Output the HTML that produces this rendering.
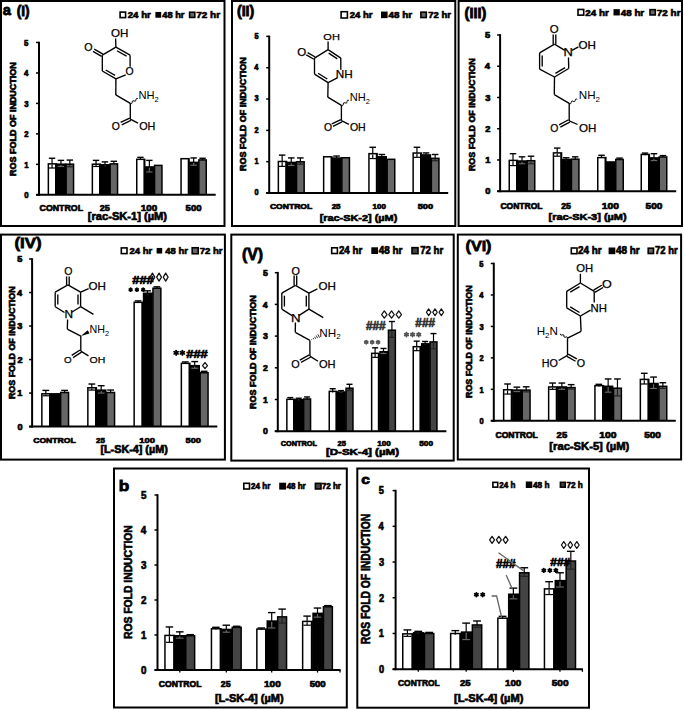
<!DOCTYPE html><html><head><meta charset="utf-8"><style>html,body{margin:0;padding:0;background:#fff;}svg{display:block;}text{font-family:"Liberation Sans",sans-serif;}</style></head><body>
<svg width="684" height="709" viewBox="0 0 684 709">
<rect x="0" y="0" width="684" height="709" fill="#fff"/>
<rect x="1.00" y="1.00" width="223.50" height="225.00" fill="none" stroke="#000" stroke-width="2"/>
<rect x="232.00" y="1.00" width="223.30" height="225.00" fill="none" stroke="#000" stroke-width="2"/>
<rect x="458.60" y="1.00" width="223.40" height="225.00" fill="none" stroke="#000" stroke-width="2"/>
<rect x="1.00" y="234.60" width="223.90" height="225.00" fill="none" stroke="#000" stroke-width="2"/>
<rect x="231.30" y="234.60" width="222.40" height="226.00" fill="none" stroke="#000" stroke-width="2"/>
<rect x="457.80" y="234.60" width="223.30" height="224.90" fill="none" stroke="#000" stroke-width="2"/>
<rect x="114.00" y="468.50" width="232.80" height="239.00" fill="none" stroke="#000" stroke-width="2"/>
<rect x="357.30" y="468.50" width="231.70" height="239.20" fill="none" stroke="#000" stroke-width="2"/>
<text x="2.79" y="15.03" font-size="15.08" font-weight="bold" fill="#000" stroke="#000" stroke-width="0.8" textLength="8.20" lengthAdjust="spacingAndGlyphs">a</text>
<text x="16.64" y="15.97" font-size="14.01" font-weight="bold" fill="#000" stroke="#000" stroke-width="0.8" textLength="12.92" lengthAdjust="spacingAndGlyphs">(I)</text>
<text x="236.91" y="16.09" font-size="13.90" font-weight="bold" fill="#000" stroke="#000" stroke-width="0.8" textLength="17.38" lengthAdjust="spacingAndGlyphs">(II)</text>
<text x="464.60" y="17.82" font-size="13.80" font-weight="bold" fill="#000" stroke="#000" stroke-width="0.8" textLength="21.81" lengthAdjust="spacingAndGlyphs">(III)</text>
<text x="14.48" y="247.78" font-size="15.41" font-weight="bold" fill="#000" stroke="#000" stroke-width="0.8" textLength="27.03" lengthAdjust="spacingAndGlyphs">(IV)</text>
<text x="242.03" y="260.49" font-size="15.83" font-weight="bold" fill="#000" stroke="#000" stroke-width="0.8" textLength="21.14" lengthAdjust="spacingAndGlyphs">(V)</text>
<text x="465.52" y="250.98" font-size="15.41" font-weight="bold" fill="#000" stroke="#000" stroke-width="0.8" textLength="25.97" lengthAdjust="spacingAndGlyphs">(VI)</text>
<text x="118.89" y="490.84" font-size="14.52" font-weight="bold" fill="#000" stroke="#000" stroke-width="0.8" textLength="10.50" lengthAdjust="spacingAndGlyphs">b</text>
<text x="361.21" y="483.96" font-size="12.70" font-weight="bold" fill="#000" stroke="#000" stroke-width="0.8" textLength="8.62" lengthAdjust="spacingAndGlyphs">c</text>
<rect x="120.10" y="12.10" width="5.50" height="5.50" fill="#fff" stroke="#000" stroke-width="1.6"/>
<text x="127.72" y="18.04" font-size="9.36" font-weight="bold" fill="#000" stroke="#000" stroke-width="0.65" textLength="23.16" lengthAdjust="spacingAndGlyphs">24 hr</text>
<rect x="156.20" y="12.75" width="4.20" height="4.20" fill="#000" stroke="#000" stroke-width="1.6"/>
<text x="162.32" y="18.04" font-size="9.36" font-weight="bold" fill="#000" stroke="#000" stroke-width="0.65" textLength="22.16" lengthAdjust="spacingAndGlyphs">48 hr</text>
<rect x="189.60" y="12.25" width="5.20" height="5.20" fill="#666" stroke="#000" stroke-width="1.6"/>
<text x="196.23" y="18.04" font-size="9.36" font-weight="bold" fill="#000" stroke="#000" stroke-width="0.65" textLength="23.86" lengthAdjust="spacingAndGlyphs">72 hr</text>
<rect x="341.10" y="11.70" width="6.30" height="6.30" fill="#fff" stroke="#000" stroke-width="1.6"/>
<text x="349.83" y="18.04" font-size="9.36" font-weight="bold" fill="#000" stroke="#000" stroke-width="0.65" textLength="22.75" lengthAdjust="spacingAndGlyphs">24 hr</text>
<rect x="381.80" y="12.35" width="5.00" height="5.00" fill="#000" stroke="#000" stroke-width="1.6"/>
<text x="388.61" y="18.04" font-size="9.36" font-weight="bold" fill="#000" stroke="#000" stroke-width="0.65" textLength="23.48" lengthAdjust="spacingAndGlyphs">48 hr</text>
<rect x="420.90" y="12.15" width="5.40" height="5.40" fill="#666" stroke="#000" stroke-width="1.6"/>
<text x="428.35" y="18.04" font-size="9.36" font-weight="bold" fill="#000" stroke="#000" stroke-width="0.65" textLength="22.63" lengthAdjust="spacingAndGlyphs">72 hr</text>
<rect x="578.00" y="9.45" width="5.70" height="5.70" fill="#fff" stroke="#000" stroke-width="1.6"/>
<text x="585.32" y="15.54" font-size="9.49" font-weight="bold" fill="#000" stroke="#000" stroke-width="0.65" textLength="23.57" lengthAdjust="spacingAndGlyphs">24 hr</text>
<rect x="614.30" y="9.95" width="4.70" height="4.70" fill="#000" stroke="#000" stroke-width="1.6"/>
<text x="620.81" y="15.54" font-size="9.49" font-weight="bold" fill="#000" stroke="#000" stroke-width="0.65" textLength="23.38" lengthAdjust="spacingAndGlyphs">48 hr</text>
<rect x="650.00" y="9.65" width="5.30" height="5.30" fill="#666" stroke="#000" stroke-width="1.6"/>
<text x="656.83" y="15.54" font-size="9.49" font-weight="bold" fill="#000" stroke="#000" stroke-width="0.65" textLength="23.66" lengthAdjust="spacingAndGlyphs">72 hr</text>
<rect x="121.30" y="247.90" width="5.70" height="5.70" fill="#fff" stroke="#000" stroke-width="1.6"/>
<text x="129.43" y="254.14" font-size="9.91" font-weight="bold" fill="#000" stroke="#000" stroke-width="0.65" textLength="22.86" lengthAdjust="spacingAndGlyphs">24 hr</text>
<rect x="157.40" y="248.75" width="4.00" height="4.00" fill="#000" stroke="#000" stroke-width="1.6"/>
<text x="165.22" y="254.14" font-size="9.91" font-weight="bold" fill="#000" stroke="#000" stroke-width="0.65" textLength="22.67" lengthAdjust="spacingAndGlyphs">48 hr</text>
<rect x="192.20" y="247.75" width="6.00" height="6.00" fill="#666" stroke="#000" stroke-width="1.6"/>
<text x="199.65" y="254.14" font-size="9.91" font-weight="bold" fill="#000" stroke="#000" stroke-width="0.65" textLength="22.94" lengthAdjust="spacingAndGlyphs">72 hr</text>
<rect x="331.70" y="247.80" width="5.70" height="5.70" fill="#fff" stroke="#000" stroke-width="1.6"/>
<text x="338.92" y="254.14" font-size="10.18" font-weight="bold" fill="#000" stroke="#000" stroke-width="0.65" textLength="23.26" lengthAdjust="spacingAndGlyphs">24 hr</text>
<rect x="372.10" y="248.10" width="5.10" height="5.10" fill="#000" stroke="#000" stroke-width="1.6"/>
<text x="378.71" y="254.14" font-size="10.18" font-weight="bold" fill="#000" stroke="#000" stroke-width="0.65" textLength="23.68" lengthAdjust="spacingAndGlyphs">48 hr</text>
<rect x="412.00" y="247.65" width="6.00" height="6.00" fill="#444" stroke="#000" stroke-width="1.6"/>
<text x="420.15" y="254.14" font-size="10.18" font-weight="bold" fill="#000" stroke="#000" stroke-width="0.65" textLength="23.04" lengthAdjust="spacingAndGlyphs">72 hr</text>
<rect x="571.30" y="248.00" width="5.70" height="5.70" fill="#fff" stroke="#000" stroke-width="1.6"/>
<text x="578.02" y="254.34" font-size="10.18" font-weight="bold" fill="#000" stroke="#000" stroke-width="0.65" textLength="23.57" lengthAdjust="spacingAndGlyphs">24 hr</text>
<rect x="609.40" y="248.30" width="5.10" height="5.10" fill="#000" stroke="#000" stroke-width="1.6"/>
<text x="615.91" y="254.34" font-size="10.18" font-weight="bold" fill="#000" stroke="#000" stroke-width="0.65" textLength="23.78" lengthAdjust="spacingAndGlyphs">48 hr</text>
<rect x="648.20" y="248.20" width="5.30" height="5.30" fill="#666" stroke="#000" stroke-width="1.6"/>
<text x="655.05" y="254.34" font-size="10.18" font-weight="bold" fill="#000" stroke="#000" stroke-width="0.65" textLength="22.63" lengthAdjust="spacingAndGlyphs">72 hr</text>
<rect x="243.80" y="483.30" width="5.70" height="5.70" fill="#fff" stroke="#000" stroke-width="1.6"/>
<text x="251.08" y="489.04" font-size="8.53" font-weight="bold" fill="#000" stroke="#000" stroke-width="0.65" textLength="19.18" lengthAdjust="spacingAndGlyphs">24 hr</text>
<rect x="280.00" y="483.50" width="5.30" height="5.30" fill="#000" stroke="#000" stroke-width="1.6"/>
<text x="286.64" y="489.04" font-size="8.53" font-weight="bold" fill="#000" stroke="#000" stroke-width="0.65" textLength="19.02" lengthAdjust="spacingAndGlyphs">48 hr</text>
<rect x="315.40" y="483.35" width="5.60" height="5.60" fill="#444" stroke="#000" stroke-width="1.6"/>
<text x="321.71" y="489.04" font-size="8.53" font-weight="bold" fill="#000" stroke="#000" stroke-width="0.65" textLength="19.25" lengthAdjust="spacingAndGlyphs">72 hr</text>
<rect x="492.90" y="482.35" width="4.80" height="4.80" fill="#fff" stroke="#000" stroke-width="1.6"/>
<text x="499.28" y="487.84" font-size="9.08" font-weight="bold" fill="#000" stroke="#000" stroke-width="0.65" textLength="16.06" lengthAdjust="spacingAndGlyphs">24 h</text>
<rect x="526.60" y="482.30" width="4.90" height="4.90" fill="#000" stroke="#000" stroke-width="1.6"/>
<text x="532.94" y="487.84" font-size="9.08" font-weight="bold" fill="#000" stroke="#000" stroke-width="0.65" textLength="16.52" lengthAdjust="spacingAndGlyphs">48 h</text>
<rect x="560.40" y="482.35" width="4.80" height="4.80" fill="#444" stroke="#000" stroke-width="1.6"/>
<text x="566.41" y="487.84" font-size="9.08" font-weight="bold" fill="#000" stroke="#000" stroke-width="0.65" textLength="16.44" lengthAdjust="spacingAndGlyphs">72 h</text>
<rect x="47.60" y="163.12" width="9.50" height="31.68" fill="#000"/>
<rect x="49.10" y="164.62" width="5.90" height="30.18" fill="#fff"/>
<rect x="56.50" y="163.43" width="9.50" height="31.37" fill="#000"/>
<rect x="58.00" y="164.93" width="5.90" height="29.87" fill="#000"/>
<rect x="65.40" y="163.43" width="8.90" height="31.37" fill="#000"/>
<rect x="66.90" y="164.93" width="5.90" height="29.87" fill="#666"/>
<rect x="91.60" y="163.43" width="9.50" height="31.37" fill="#000"/>
<rect x="93.10" y="164.93" width="5.90" height="29.87" fill="#fff"/>
<rect x="100.50" y="164.04" width="9.50" height="30.76" fill="#000"/>
<rect x="102.00" y="165.54" width="5.90" height="29.26" fill="#000"/>
<rect x="109.40" y="163.12" width="8.90" height="31.68" fill="#000"/>
<rect x="110.90" y="164.62" width="5.90" height="30.18" fill="#666"/>
<rect x="136.00" y="158.55" width="9.50" height="36.25" fill="#000"/>
<rect x="137.50" y="160.05" width="5.90" height="34.75" fill="#fff"/>
<rect x="144.90" y="166.17" width="9.50" height="28.63" fill="#000"/>
<rect x="146.40" y="167.67" width="5.90" height="27.13" fill="#000"/>
<rect x="153.80" y="164.64" width="8.90" height="30.16" fill="#000"/>
<rect x="155.30" y="166.14" width="5.90" height="28.66" fill="#666"/>
<rect x="180.30" y="157.94" width="9.50" height="36.86" fill="#000"/>
<rect x="181.80" y="159.44" width="5.90" height="35.36" fill="#fff"/>
<rect x="189.20" y="161.60" width="9.50" height="33.20" fill="#000"/>
<rect x="190.70" y="163.10" width="5.90" height="31.70" fill="#000"/>
<rect x="198.10" y="159.16" width="8.90" height="35.64" fill="#000"/>
<rect x="199.60" y="160.66" width="5.90" height="34.14" fill="#666"/>
<line x1="48.85" y1="168.00" x2="55.25" y2="168.00" stroke="#000" stroke-width="1.2"/>
<line x1="52.05" y1="164.62" x2="52.05" y2="168.00" stroke="#000" stroke-width="1.2"/>
<line x1="52.05" y1="158.25" x2="52.05" y2="163.87" stroke="#000" stroke-width="1.2"/>
<line x1="48.85" y1="158.25" x2="55.25" y2="158.25" stroke="#000" stroke-width="1.4"/>
<line x1="57.75" y1="166.47" x2="64.15" y2="166.47" stroke="#666" stroke-width="1.2"/>
<line x1="60.95" y1="164.93" x2="60.95" y2="166.47" stroke="#666" stroke-width="1.2"/>
<line x1="60.95" y1="160.38" x2="60.95" y2="164.18" stroke="#000" stroke-width="1.2"/>
<line x1="57.75" y1="160.38" x2="64.15" y2="160.38" stroke="#000" stroke-width="1.4"/>
<line x1="66.65" y1="166.78" x2="73.05" y2="166.78" stroke="#222" stroke-width="1.2"/>
<line x1="69.85" y1="164.93" x2="69.85" y2="166.78" stroke="#222" stroke-width="1.2"/>
<line x1="69.85" y1="160.08" x2="69.85" y2="164.18" stroke="#000" stroke-width="1.2"/>
<line x1="66.65" y1="160.08" x2="73.05" y2="160.08" stroke="#000" stroke-width="1.4"/>
<line x1="92.85" y1="166.47" x2="99.25" y2="166.47" stroke="#000" stroke-width="1.2"/>
<line x1="96.05" y1="164.93" x2="96.05" y2="166.47" stroke="#000" stroke-width="1.2"/>
<line x1="96.05" y1="160.38" x2="96.05" y2="164.18" stroke="#000" stroke-width="1.2"/>
<line x1="92.85" y1="160.38" x2="99.25" y2="160.38" stroke="#000" stroke-width="1.4"/>
<line x1="104.95" y1="165.54" x2="104.95" y2="166.17" stroke="#666" stroke-width="1.2"/>
<line x1="104.95" y1="161.90" x2="104.95" y2="164.79" stroke="#000" stroke-width="1.2"/>
<line x1="101.75" y1="161.90" x2="108.15" y2="161.90" stroke="#000" stroke-width="1.4"/>
<line x1="113.85" y1="164.62" x2="113.85" y2="164.95" stroke="#222" stroke-width="1.2"/>
<line x1="113.85" y1="161.29" x2="113.85" y2="163.87" stroke="#000" stroke-width="1.2"/>
<line x1="110.65" y1="161.29" x2="117.05" y2="161.29" stroke="#000" stroke-width="1.4"/>
<line x1="140.45" y1="160.05" x2="140.45" y2="159.77" stroke="#000" stroke-width="1.2"/>
<line x1="140.45" y1="157.33" x2="140.45" y2="159.30" stroke="#000" stroke-width="1.2"/>
<line x1="137.25" y1="157.33" x2="143.65" y2="157.33" stroke="#000" stroke-width="1.4"/>
<line x1="146.15" y1="171.96" x2="152.55" y2="171.96" stroke="#666" stroke-width="1.2"/>
<line x1="149.35" y1="167.67" x2="149.35" y2="171.96" stroke="#666" stroke-width="1.2"/>
<line x1="149.35" y1="160.38" x2="149.35" y2="166.92" stroke="#000" stroke-width="1.2"/>
<line x1="146.15" y1="160.38" x2="152.55" y2="160.38" stroke="#000" stroke-width="1.4"/>
<line x1="190.45" y1="165.25" x2="196.85" y2="165.25" stroke="#666" stroke-width="1.2"/>
<line x1="193.65" y1="163.10" x2="193.65" y2="165.25" stroke="#666" stroke-width="1.2"/>
<line x1="193.65" y1="157.94" x2="193.65" y2="162.35" stroke="#000" stroke-width="1.2"/>
<line x1="190.45" y1="157.94" x2="196.85" y2="157.94" stroke="#000" stroke-width="1.4"/>
<line x1="202.55" y1="160.66" x2="202.55" y2="160.08" stroke="#222" stroke-width="1.2"/>
<line x1="202.55" y1="158.25" x2="202.55" y2="159.91" stroke="#000" stroke-width="1.2"/>
<line x1="199.35" y1="158.25" x2="205.75" y2="158.25" stroke="#000" stroke-width="1.4"/>
<line x1="39.00" y1="41.70" x2="39.00" y2="195.80" stroke="#000" stroke-width="2.0"/>
<line x1="36.00" y1="194.80" x2="215.70" y2="194.80" stroke="#000" stroke-width="2.0"/>
<line x1="36.00" y1="194.80" x2="39.00" y2="194.80" stroke="#000" stroke-width="1.5"/>
<line x1="36.00" y1="164.34" x2="39.00" y2="164.34" stroke="#000" stroke-width="1.5"/>
<line x1="36.00" y1="133.88" x2="39.00" y2="133.88" stroke="#000" stroke-width="1.5"/>
<line x1="36.00" y1="103.42" x2="39.00" y2="103.42" stroke="#000" stroke-width="1.5"/>
<line x1="36.00" y1="72.96" x2="39.00" y2="72.96" stroke="#000" stroke-width="1.5"/>
<line x1="36.00" y1="42.50" x2="39.00" y2="42.50" stroke="#000" stroke-width="1.5"/>
<text x="24.25" y="198.09" font-size="8.57" font-weight="bold" fill="#000" stroke="#000" stroke-width="0.65" textLength="4.31" lengthAdjust="spacingAndGlyphs">0</text>
<text x="24.16" y="167.63" font-size="8.57" font-weight="bold" fill="#000" stroke="#000" stroke-width="0.65" textLength="4.30" lengthAdjust="spacingAndGlyphs">1</text>
<text x="24.23" y="137.17" font-size="8.57" font-weight="bold" fill="#000" stroke="#000" stroke-width="0.65" textLength="4.32" lengthAdjust="spacingAndGlyphs">2</text>
<text x="24.18" y="106.71" font-size="8.57" font-weight="bold" fill="#000" stroke="#000" stroke-width="0.65" textLength="4.34" lengthAdjust="spacingAndGlyphs">3</text>
<text x="23.90" y="76.25" font-size="8.57" font-weight="bold" fill="#000" stroke="#000" stroke-width="0.65" textLength="4.38" lengthAdjust="spacingAndGlyphs">4</text>
<text x="24.12" y="45.79" font-size="8.57" font-weight="bold" fill="#000" stroke="#000" stroke-width="0.65" textLength="4.34" lengthAdjust="spacingAndGlyphs">5</text>
<text x="39.60" y="211.44" font-size="8.42" font-weight="bold" fill="#000" stroke="#000" stroke-width="0.65" textLength="43.41" lengthAdjust="spacingAndGlyphs">CONTROL</text>
<text x="99.85" y="211.44" font-size="8.42" font-weight="bold" fill="#000" stroke="#000" stroke-width="0.65" textLength="10.04" lengthAdjust="spacingAndGlyphs">25</text>
<text x="140.84" y="211.44" font-size="8.42" font-weight="bold" fill="#000" stroke="#000" stroke-width="0.65" textLength="16.30" lengthAdjust="spacingAndGlyphs">100</text>
<text x="185.57" y="211.44" font-size="8.42" font-weight="bold" fill="#000" stroke="#000" stroke-width="0.65" textLength="15.97" lengthAdjust="spacingAndGlyphs">500</text>
<text x="87.84" y="220.31" font-size="10.70" font-weight="bold" fill="#000" stroke="#000" stroke-width="0.65" textLength="79.26" lengthAdjust="spacingAndGlyphs">[rac-SK-1] (µM)</text>
<text x="-0.60" y="0" font-size="9.75" font-weight="bold" stroke="#000" stroke-width="0.65" textLength="113.81" lengthAdjust="spacingAndGlyphs" transform="translate(15.70,175.40) rotate(-90)">ROS FOLD OF INDUCTION</text>
<rect x="277.60" y="160.74" width="9.70" height="32.26" fill="#000"/>
<rect x="279.10" y="162.24" width="6.10" height="30.76" fill="#fff"/>
<rect x="286.70" y="161.68" width="9.70" height="31.32" fill="#000"/>
<rect x="288.20" y="163.18" width="6.10" height="29.82" fill="#000"/>
<rect x="295.80" y="161.05" width="9.10" height="31.95" fill="#000"/>
<rect x="297.30" y="162.55" width="6.10" height="30.45" fill="#666"/>
<rect x="322.90" y="156.04" width="9.70" height="36.96" fill="#000"/>
<rect x="324.40" y="157.54" width="6.10" height="35.46" fill="#fff"/>
<rect x="332.00" y="157.30" width="9.70" height="35.70" fill="#000"/>
<rect x="333.50" y="158.80" width="6.10" height="34.20" fill="#000"/>
<rect x="341.10" y="156.98" width="9.10" height="36.02" fill="#000"/>
<rect x="342.60" y="158.48" width="6.10" height="34.52" fill="#666"/>
<rect x="368.20" y="152.91" width="9.70" height="40.09" fill="#000"/>
<rect x="369.70" y="154.41" width="6.10" height="38.59" fill="#fff"/>
<rect x="377.30" y="156.04" width="9.70" height="36.96" fill="#000"/>
<rect x="378.80" y="157.54" width="6.10" height="35.46" fill="#000"/>
<rect x="386.40" y="158.55" width="9.10" height="34.45" fill="#000"/>
<rect x="387.90" y="160.05" width="6.10" height="32.95" fill="#666"/>
<rect x="412.40" y="152.28" width="9.70" height="40.72" fill="#000"/>
<rect x="413.90" y="153.78" width="6.10" height="39.22" fill="#fff"/>
<rect x="421.50" y="154.16" width="9.70" height="38.84" fill="#000"/>
<rect x="423.00" y="155.66" width="6.10" height="37.34" fill="#000"/>
<rect x="430.60" y="157.61" width="9.10" height="35.39" fill="#000"/>
<rect x="432.10" y="159.11" width="6.10" height="33.89" fill="#666"/>
<line x1="278.87" y1="166.38" x2="285.43" y2="166.38" stroke="#000" stroke-width="1.2"/>
<line x1="282.15" y1="162.24" x2="282.15" y2="166.38" stroke="#000" stroke-width="1.2"/>
<line x1="282.15" y1="155.10" x2="282.15" y2="161.49" stroke="#000" stroke-width="1.2"/>
<line x1="278.87" y1="155.10" x2="285.43" y2="155.10" stroke="#000" stroke-width="1.4"/>
<line x1="287.97" y1="165.44" x2="294.53" y2="165.44" stroke="#666" stroke-width="1.2"/>
<line x1="291.25" y1="163.18" x2="291.25" y2="165.44" stroke="#666" stroke-width="1.2"/>
<line x1="291.25" y1="157.92" x2="291.25" y2="162.43" stroke="#000" stroke-width="1.2"/>
<line x1="287.97" y1="157.92" x2="294.53" y2="157.92" stroke="#000" stroke-width="1.4"/>
<line x1="297.07" y1="164.19" x2="303.63" y2="164.19" stroke="#222" stroke-width="1.2"/>
<line x1="300.35" y1="162.55" x2="300.35" y2="164.19" stroke="#222" stroke-width="1.2"/>
<line x1="300.35" y1="157.92" x2="300.35" y2="161.80" stroke="#000" stroke-width="1.2"/>
<line x1="297.07" y1="157.92" x2="303.63" y2="157.92" stroke="#000" stroke-width="1.4"/>
<line x1="336.55" y1="158.80" x2="336.55" y2="158.55" stroke="#666" stroke-width="1.2"/>
<line x1="336.55" y1="156.04" x2="336.55" y2="158.05" stroke="#000" stroke-width="1.2"/>
<line x1="333.27" y1="156.04" x2="339.83" y2="156.04" stroke="#000" stroke-width="1.4"/>
<line x1="369.47" y1="158.55" x2="376.03" y2="158.55" stroke="#000" stroke-width="1.2"/>
<line x1="372.75" y1="154.41" x2="372.75" y2="158.55" stroke="#000" stroke-width="1.2"/>
<line x1="372.75" y1="147.27" x2="372.75" y2="153.66" stroke="#000" stroke-width="1.2"/>
<line x1="369.47" y1="147.27" x2="376.03" y2="147.27" stroke="#000" stroke-width="1.4"/>
<line x1="381.85" y1="157.54" x2="381.85" y2="157.61" stroke="#666" stroke-width="1.2"/>
<line x1="381.85" y1="154.48" x2="381.85" y2="156.79" stroke="#000" stroke-width="1.2"/>
<line x1="378.57" y1="154.48" x2="385.13" y2="154.48" stroke="#000" stroke-width="1.4"/>
<line x1="413.67" y1="157.30" x2="420.23" y2="157.30" stroke="#000" stroke-width="1.2"/>
<line x1="416.95" y1="153.78" x2="416.95" y2="157.30" stroke="#000" stroke-width="1.2"/>
<line x1="416.95" y1="147.27" x2="416.95" y2="153.03" stroke="#000" stroke-width="1.2"/>
<line x1="413.67" y1="147.27" x2="420.23" y2="147.27" stroke="#000" stroke-width="1.4"/>
<line x1="426.05" y1="155.66" x2="426.05" y2="155.42" stroke="#666" stroke-width="1.2"/>
<line x1="426.05" y1="152.91" x2="426.05" y2="154.91" stroke="#000" stroke-width="1.2"/>
<line x1="422.77" y1="152.91" x2="429.33" y2="152.91" stroke="#000" stroke-width="1.4"/>
<line x1="431.87" y1="160.74" x2="438.43" y2="160.74" stroke="#222" stroke-width="1.2"/>
<line x1="435.15" y1="159.11" x2="435.15" y2="160.74" stroke="#222" stroke-width="1.2"/>
<line x1="435.15" y1="154.48" x2="435.15" y2="158.36" stroke="#000" stroke-width="1.2"/>
<line x1="431.87" y1="154.48" x2="438.43" y2="154.48" stroke="#000" stroke-width="1.4"/>
<line x1="269.20" y1="35.60" x2="269.20" y2="194.00" stroke="#000" stroke-width="2.0"/>
<line x1="266.20" y1="193.00" x2="448.20" y2="193.00" stroke="#000" stroke-width="2.0"/>
<line x1="266.20" y1="193.00" x2="269.20" y2="193.00" stroke="#000" stroke-width="1.5"/>
<line x1="266.20" y1="161.68" x2="269.20" y2="161.68" stroke="#000" stroke-width="1.5"/>
<line x1="266.20" y1="130.36" x2="269.20" y2="130.36" stroke="#000" stroke-width="1.5"/>
<line x1="266.20" y1="99.04" x2="269.20" y2="99.04" stroke="#000" stroke-width="1.5"/>
<line x1="266.20" y1="67.72" x2="269.20" y2="67.72" stroke="#000" stroke-width="1.5"/>
<line x1="266.20" y1="36.40" x2="269.20" y2="36.40" stroke="#000" stroke-width="1.5"/>
<text x="254.56" y="195.24" font-size="8.14" font-weight="bold" fill="#000" stroke="#000" stroke-width="0.65" textLength="4.08" lengthAdjust="spacingAndGlyphs">0</text>
<text x="254.47" y="163.92" font-size="8.14" font-weight="bold" fill="#000" stroke="#000" stroke-width="0.65" textLength="4.07" lengthAdjust="spacingAndGlyphs">1</text>
<text x="254.54" y="132.60" font-size="8.14" font-weight="bold" fill="#000" stroke="#000" stroke-width="0.65" textLength="4.09" lengthAdjust="spacingAndGlyphs">2</text>
<text x="254.50" y="101.28" font-size="8.14" font-weight="bold" fill="#000" stroke="#000" stroke-width="0.65" textLength="4.11" lengthAdjust="spacingAndGlyphs">3</text>
<text x="254.23" y="69.96" font-size="8.14" font-weight="bold" fill="#000" stroke="#000" stroke-width="0.65" textLength="4.15" lengthAdjust="spacingAndGlyphs">4</text>
<text x="254.43" y="38.64" font-size="8.14" font-weight="bold" fill="#000" stroke="#000" stroke-width="0.65" textLength="4.11" lengthAdjust="spacingAndGlyphs">5</text>
<text x="269.91" y="209.44" font-size="7.28" font-weight="bold" fill="#000" stroke="#000" stroke-width="0.65" textLength="42.29" lengthAdjust="spacingAndGlyphs">CONTROL</text>
<text x="331.68" y="209.44" font-size="7.28" font-weight="bold" fill="#000" stroke="#000" stroke-width="0.65" textLength="8.88" lengthAdjust="spacingAndGlyphs">25</text>
<text x="372.56" y="209.44" font-size="7.28" font-weight="bold" fill="#000" stroke="#000" stroke-width="0.65" textLength="13.31" lengthAdjust="spacingAndGlyphs">100</text>
<text x="417.78" y="209.44" font-size="7.28" font-weight="bold" fill="#000" stroke="#000" stroke-width="0.65" textLength="15.34" lengthAdjust="spacingAndGlyphs">500</text>
<text x="319.65" y="220.69" font-size="9.84" font-weight="bold" fill="#000" stroke="#000" stroke-width="0.65" textLength="77.63" lengthAdjust="spacingAndGlyphs">[rac-SK-2] (µM)</text>
<text x="-0.60" y="0" font-size="9.46" font-weight="bold" stroke="#000" stroke-width="0.65" textLength="113.81" lengthAdjust="spacingAndGlyphs" transform="translate(246.21,170.50) rotate(-90)">ROS FOLD OF INDUCTION</text>
<rect x="508.50" y="159.65" width="9.60" height="31.55" fill="#000"/>
<rect x="510.00" y="161.15" width="6.00" height="30.05" fill="#fff"/>
<rect x="517.50" y="160.27" width="9.60" height="30.93" fill="#000"/>
<rect x="519.00" y="161.77" width="6.00" height="29.43" fill="#000"/>
<rect x="526.50" y="159.96" width="9.00" height="31.24" fill="#000"/>
<rect x="528.00" y="161.46" width="6.00" height="29.74" fill="#666"/>
<rect x="552.70" y="152.15" width="9.60" height="39.05" fill="#000"/>
<rect x="554.20" y="153.65" width="6.00" height="37.55" fill="#fff"/>
<rect x="561.70" y="158.71" width="9.60" height="32.49" fill="#000"/>
<rect x="563.20" y="160.21" width="6.00" height="30.99" fill="#000"/>
<rect x="570.70" y="158.40" width="9.00" height="32.80" fill="#000"/>
<rect x="572.20" y="159.90" width="6.00" height="31.30" fill="#666"/>
<rect x="597.00" y="156.84" width="9.60" height="34.36" fill="#000"/>
<rect x="598.50" y="158.34" width="6.00" height="32.86" fill="#fff"/>
<rect x="606.00" y="161.21" width="9.60" height="29.99" fill="#000"/>
<rect x="607.50" y="162.71" width="6.00" height="28.49" fill="#000"/>
<rect x="615.00" y="158.71" width="9.00" height="32.49" fill="#000"/>
<rect x="616.50" y="160.21" width="6.00" height="30.99" fill="#666"/>
<rect x="640.50" y="153.71" width="9.60" height="37.49" fill="#000"/>
<rect x="642.00" y="155.21" width="6.00" height="35.99" fill="#fff"/>
<rect x="649.50" y="157.15" width="9.60" height="34.05" fill="#000"/>
<rect x="651.00" y="158.65" width="6.00" height="32.55" fill="#000"/>
<rect x="658.50" y="156.21" width="9.00" height="34.99" fill="#000"/>
<rect x="660.00" y="157.71" width="6.00" height="33.49" fill="#666"/>
<line x1="509.76" y1="165.58" x2="516.24" y2="165.58" stroke="#000" stroke-width="1.2"/>
<line x1="513.00" y1="161.15" x2="513.00" y2="165.58" stroke="#000" stroke-width="1.2"/>
<line x1="513.00" y1="153.71" x2="513.00" y2="160.40" stroke="#000" stroke-width="1.2"/>
<line x1="509.76" y1="153.71" x2="516.24" y2="153.71" stroke="#000" stroke-width="1.4"/>
<line x1="518.76" y1="163.71" x2="525.24" y2="163.71" stroke="#666" stroke-width="1.2"/>
<line x1="522.00" y1="161.77" x2="522.00" y2="163.71" stroke="#666" stroke-width="1.2"/>
<line x1="522.00" y1="156.84" x2="522.00" y2="161.02" stroke="#000" stroke-width="1.2"/>
<line x1="518.76" y1="156.84" x2="525.24" y2="156.84" stroke="#000" stroke-width="1.4"/>
<line x1="527.76" y1="163.71" x2="534.24" y2="163.71" stroke="#222" stroke-width="1.2"/>
<line x1="531.00" y1="161.46" x2="531.00" y2="163.71" stroke="#222" stroke-width="1.2"/>
<line x1="531.00" y1="156.21" x2="531.00" y2="160.71" stroke="#000" stroke-width="1.2"/>
<line x1="527.76" y1="156.21" x2="534.24" y2="156.21" stroke="#000" stroke-width="1.4"/>
<line x1="553.96" y1="156.21" x2="560.44" y2="156.21" stroke="#000" stroke-width="1.2"/>
<line x1="557.20" y1="153.65" x2="557.20" y2="156.21" stroke="#000" stroke-width="1.2"/>
<line x1="557.20" y1="148.09" x2="557.20" y2="152.90" stroke="#000" stroke-width="1.2"/>
<line x1="553.96" y1="148.09" x2="560.44" y2="148.09" stroke="#000" stroke-width="1.4"/>
<line x1="566.20" y1="160.21" x2="566.20" y2="159.65" stroke="#666" stroke-width="1.2"/>
<line x1="566.20" y1="157.77" x2="566.20" y2="159.46" stroke="#000" stroke-width="1.2"/>
<line x1="562.96" y1="157.77" x2="569.44" y2="157.77" stroke="#000" stroke-width="1.4"/>
<line x1="575.20" y1="159.90" x2="575.20" y2="159.96" stroke="#222" stroke-width="1.2"/>
<line x1="575.20" y1="156.84" x2="575.20" y2="159.15" stroke="#000" stroke-width="1.2"/>
<line x1="571.96" y1="156.84" x2="578.44" y2="156.84" stroke="#000" stroke-width="1.4"/>
<line x1="601.50" y1="158.34" x2="601.50" y2="158.40" stroke="#000" stroke-width="1.2"/>
<line x1="601.50" y1="155.27" x2="601.50" y2="157.59" stroke="#000" stroke-width="1.2"/>
<line x1="598.26" y1="155.27" x2="604.74" y2="155.27" stroke="#000" stroke-width="1.4"/>
<line x1="619.50" y1="160.21" x2="619.50" y2="159.34" stroke="#222" stroke-width="1.2"/>
<line x1="619.50" y1="158.09" x2="619.50" y2="159.46" stroke="#000" stroke-width="1.2"/>
<line x1="616.26" y1="158.09" x2="622.74" y2="158.09" stroke="#000" stroke-width="1.4"/>
<line x1="645.00" y1="155.21" x2="645.00" y2="154.34" stroke="#000" stroke-width="1.2"/>
<line x1="645.00" y1="153.09" x2="645.00" y2="154.46" stroke="#000" stroke-width="1.2"/>
<line x1="641.76" y1="153.09" x2="648.24" y2="153.09" stroke="#000" stroke-width="1.4"/>
<line x1="650.76" y1="160.58" x2="657.24" y2="160.58" stroke="#666" stroke-width="1.2"/>
<line x1="654.00" y1="158.65" x2="654.00" y2="160.58" stroke="#666" stroke-width="1.2"/>
<line x1="654.00" y1="153.71" x2="654.00" y2="157.90" stroke="#000" stroke-width="1.2"/>
<line x1="650.76" y1="153.71" x2="657.24" y2="153.71" stroke="#000" stroke-width="1.4"/>
<line x1="663.00" y1="157.71" x2="663.00" y2="156.84" stroke="#222" stroke-width="1.2"/>
<line x1="663.00" y1="155.59" x2="663.00" y2="156.96" stroke="#000" stroke-width="1.2"/>
<line x1="659.76" y1="155.59" x2="666.24" y2="155.59" stroke="#000" stroke-width="1.4"/>
<line x1="500.10" y1="34.20" x2="500.10" y2="192.20" stroke="#000" stroke-width="2.0"/>
<line x1="497.10" y1="191.20" x2="676.20" y2="191.20" stroke="#000" stroke-width="2.0"/>
<line x1="497.10" y1="191.20" x2="500.10" y2="191.20" stroke="#000" stroke-width="1.5"/>
<line x1="497.10" y1="159.96" x2="500.10" y2="159.96" stroke="#000" stroke-width="1.5"/>
<line x1="497.10" y1="128.72" x2="500.10" y2="128.72" stroke="#000" stroke-width="1.5"/>
<line x1="497.10" y1="97.48" x2="500.10" y2="97.48" stroke="#000" stroke-width="1.5"/>
<line x1="497.10" y1="66.24" x2="500.10" y2="66.24" stroke="#000" stroke-width="1.5"/>
<line x1="497.10" y1="35.00" x2="500.10" y2="35.00" stroke="#000" stroke-width="1.5"/>
<text x="485.26" y="194.39" font-size="8.28" font-weight="bold" fill="#000" stroke="#000" stroke-width="0.65" textLength="5.16" lengthAdjust="spacingAndGlyphs">0</text>
<text x="485.15" y="163.15" font-size="8.28" font-weight="bold" fill="#000" stroke="#000" stroke-width="0.65" textLength="5.15" lengthAdjust="spacingAndGlyphs">1</text>
<text x="485.24" y="131.91" font-size="8.28" font-weight="bold" fill="#000" stroke="#000" stroke-width="0.65" textLength="5.17" lengthAdjust="spacingAndGlyphs">2</text>
<text x="485.19" y="100.67" font-size="8.28" font-weight="bold" fill="#000" stroke="#000" stroke-width="0.65" textLength="5.19" lengthAdjust="spacingAndGlyphs">3</text>
<text x="484.86" y="69.43" font-size="8.28" font-weight="bold" fill="#000" stroke="#000" stroke-width="0.65" textLength="5.23" lengthAdjust="spacingAndGlyphs">4</text>
<text x="485.11" y="38.19" font-size="8.28" font-weight="bold" fill="#000" stroke="#000" stroke-width="0.65" textLength="5.19" lengthAdjust="spacingAndGlyphs">5</text>
<text x="500.41" y="209.04" font-size="8.42" font-weight="bold" fill="#000" stroke="#000" stroke-width="0.65" textLength="42.09" lengthAdjust="spacingAndGlyphs">CONTROL</text>
<text x="561.26" y="209.04" font-size="8.42" font-weight="bold" fill="#000" stroke="#000" stroke-width="0.65" textLength="9.73" lengthAdjust="spacingAndGlyphs">25</text>
<text x="601.81" y="209.04" font-size="8.42" font-weight="bold" fill="#000" stroke="#000" stroke-width="0.65" textLength="17.15" lengthAdjust="spacingAndGlyphs">100</text>
<text x="645.55" y="209.04" font-size="8.42" font-weight="bold" fill="#000" stroke="#000" stroke-width="0.65" textLength="16.80" lengthAdjust="spacingAndGlyphs">500</text>
<text x="548.55" y="220.49" font-size="9.84" font-weight="bold" fill="#000" stroke="#000" stroke-width="0.65" textLength="78.04" lengthAdjust="spacingAndGlyphs">[rac-SK-3] (µM)</text>
<text x="-0.60" y="0" font-size="9.75" font-weight="bold" stroke="#000" stroke-width="0.65" textLength="112.80" lengthAdjust="spacingAndGlyphs" transform="translate(474.70,170.50) rotate(-90)">ROS FOLD OF INDUCTION</text>
<rect x="41.10" y="393.08" width="10.00" height="33.52" fill="#000"/>
<rect x="42.60" y="394.58" width="6.40" height="32.02" fill="#fff"/>
<rect x="50.50" y="393.08" width="10.00" height="33.52" fill="#000"/>
<rect x="52.00" y="394.58" width="6.40" height="32.02" fill="#000"/>
<rect x="59.90" y="391.74" width="9.40" height="34.86" fill="#000"/>
<rect x="61.40" y="393.24" width="6.40" height="33.36" fill="#666"/>
<rect x="87.10" y="387.05" width="10.00" height="39.55" fill="#000"/>
<rect x="88.60" y="388.55" width="6.40" height="38.05" fill="#fff"/>
<rect x="96.50" y="389.39" width="10.00" height="37.21" fill="#000"/>
<rect x="98.00" y="390.89" width="6.40" height="35.71" fill="#000"/>
<rect x="105.90" y="391.74" width="9.40" height="34.86" fill="#000"/>
<rect x="107.40" y="393.24" width="6.40" height="33.36" fill="#666"/>
<rect x="133.40" y="301.57" width="10.00" height="125.03" fill="#000"/>
<rect x="134.90" y="303.07" width="6.40" height="123.53" fill="#fff"/>
<rect x="142.80" y="292.52" width="10.00" height="134.08" fill="#000"/>
<rect x="144.30" y="294.02" width="6.40" height="132.58" fill="#000"/>
<rect x="152.20" y="287.49" width="9.40" height="139.11" fill="#000"/>
<rect x="153.70" y="288.99" width="6.40" height="137.61" fill="#666"/>
<rect x="180.60" y="362.58" width="10.00" height="64.02" fill="#000"/>
<rect x="182.10" y="364.08" width="6.40" height="62.52" fill="#fff"/>
<rect x="190.00" y="364.92" width="10.00" height="61.68" fill="#000"/>
<rect x="191.50" y="366.42" width="6.40" height="60.18" fill="#000"/>
<rect x="199.40" y="371.96" width="9.40" height="54.64" fill="#000"/>
<rect x="200.90" y="373.46" width="6.40" height="53.14" fill="#666"/>
<line x1="42.42" y1="395.76" x2="49.18" y2="395.76" stroke="#000" stroke-width="1.2"/>
<line x1="45.80" y1="394.58" x2="45.80" y2="395.76" stroke="#000" stroke-width="1.2"/>
<line x1="45.80" y1="390.40" x2="45.80" y2="393.83" stroke="#000" stroke-width="1.2"/>
<line x1="42.42" y1="390.40" x2="49.18" y2="390.40" stroke="#000" stroke-width="1.4"/>
<line x1="64.60" y1="393.24" x2="64.60" y2="393.08" stroke="#222" stroke-width="1.2"/>
<line x1="64.60" y1="390.40" x2="64.60" y2="392.49" stroke="#000" stroke-width="1.2"/>
<line x1="61.22" y1="390.40" x2="67.98" y2="390.40" stroke="#000" stroke-width="1.4"/>
<line x1="88.42" y1="390.06" x2="95.18" y2="390.06" stroke="#000" stroke-width="1.2"/>
<line x1="91.80" y1="388.55" x2="91.80" y2="390.06" stroke="#000" stroke-width="1.2"/>
<line x1="91.80" y1="384.03" x2="91.80" y2="387.80" stroke="#000" stroke-width="1.2"/>
<line x1="88.42" y1="384.03" x2="95.18" y2="384.03" stroke="#000" stroke-width="1.4"/>
<line x1="97.82" y1="393.08" x2="104.58" y2="393.08" stroke="#666" stroke-width="1.2"/>
<line x1="101.20" y1="390.89" x2="101.20" y2="393.08" stroke="#666" stroke-width="1.2"/>
<line x1="101.20" y1="385.71" x2="101.20" y2="390.14" stroke="#000" stroke-width="1.2"/>
<line x1="97.82" y1="385.71" x2="104.58" y2="385.71" stroke="#000" stroke-width="1.4"/>
<line x1="110.60" y1="393.24" x2="110.60" y2="393.42" stroke="#222" stroke-width="1.2"/>
<line x1="110.60" y1="390.06" x2="110.60" y2="392.49" stroke="#000" stroke-width="1.2"/>
<line x1="107.22" y1="390.06" x2="113.98" y2="390.06" stroke="#000" stroke-width="1.4"/>
<line x1="138.10" y1="303.07" x2="138.10" y2="302.24" stroke="#000" stroke-width="1.2"/>
<line x1="138.10" y1="300.90" x2="138.10" y2="302.32" stroke="#000" stroke-width="1.2"/>
<line x1="134.72" y1="300.90" x2="141.48" y2="300.90" stroke="#000" stroke-width="1.4"/>
<line x1="147.50" y1="294.02" x2="147.50" y2="294.20" stroke="#666" stroke-width="1.2"/>
<line x1="147.50" y1="290.84" x2="147.50" y2="293.27" stroke="#000" stroke-width="1.2"/>
<line x1="144.12" y1="290.84" x2="150.88" y2="290.84" stroke="#000" stroke-width="1.4"/>
<line x1="156.90" y1="288.99" x2="156.90" y2="288.16" stroke="#222" stroke-width="1.2"/>
<line x1="156.90" y1="286.82" x2="156.90" y2="288.24" stroke="#000" stroke-width="1.2"/>
<line x1="153.52" y1="286.82" x2="160.28" y2="286.82" stroke="#000" stroke-width="1.4"/>
<line x1="185.30" y1="364.08" x2="185.30" y2="363.25" stroke="#000" stroke-width="1.2"/>
<line x1="185.30" y1="361.91" x2="185.30" y2="363.33" stroke="#000" stroke-width="1.2"/>
<line x1="181.92" y1="361.91" x2="188.68" y2="361.91" stroke="#000" stroke-width="1.4"/>
<line x1="191.32" y1="368.28" x2="198.08" y2="368.28" stroke="#666" stroke-width="1.2"/>
<line x1="194.70" y1="366.42" x2="194.70" y2="368.28" stroke="#666" stroke-width="1.2"/>
<line x1="194.70" y1="361.57" x2="194.70" y2="365.67" stroke="#000" stroke-width="1.2"/>
<line x1="191.32" y1="361.57" x2="198.08" y2="361.57" stroke="#000" stroke-width="1.4"/>
<line x1="204.10" y1="373.46" x2="204.10" y2="372.63" stroke="#222" stroke-width="1.2"/>
<line x1="204.10" y1="371.29" x2="204.10" y2="372.71" stroke="#000" stroke-width="1.2"/>
<line x1="200.72" y1="371.29" x2="207.48" y2="371.29" stroke="#000" stroke-width="1.4"/>
<line x1="32.10" y1="258.20" x2="32.10" y2="427.60" stroke="#000" stroke-width="2.0"/>
<line x1="29.10" y1="426.60" x2="217.30" y2="426.60" stroke="#000" stroke-width="2.0"/>
<line x1="29.10" y1="426.60" x2="32.10" y2="426.60" stroke="#000" stroke-width="1.5"/>
<line x1="29.10" y1="393.08" x2="32.10" y2="393.08" stroke="#000" stroke-width="1.5"/>
<line x1="29.10" y1="359.56" x2="32.10" y2="359.56" stroke="#000" stroke-width="1.5"/>
<line x1="29.10" y1="326.04" x2="32.10" y2="326.04" stroke="#000" stroke-width="1.5"/>
<line x1="29.10" y1="292.52" x2="32.10" y2="292.52" stroke="#000" stroke-width="1.5"/>
<line x1="29.10" y1="259.00" x2="32.10" y2="259.00" stroke="#000" stroke-width="1.5"/>
<text x="17.44" y="429.74" font-size="8.14" font-weight="bold" fill="#000" stroke="#000" stroke-width="0.65" textLength="5.07" lengthAdjust="spacingAndGlyphs">0</text>
<text x="17.33" y="396.22" font-size="8.14" font-weight="bold" fill="#000" stroke="#000" stroke-width="0.65" textLength="5.06" lengthAdjust="spacingAndGlyphs">1</text>
<text x="17.43" y="362.70" font-size="8.14" font-weight="bold" fill="#000" stroke="#000" stroke-width="0.65" textLength="5.08" lengthAdjust="spacingAndGlyphs">2</text>
<text x="17.37" y="329.18" font-size="8.14" font-weight="bold" fill="#000" stroke="#000" stroke-width="0.65" textLength="5.10" lengthAdjust="spacingAndGlyphs">3</text>
<text x="17.05" y="295.66" font-size="8.14" font-weight="bold" fill="#000" stroke="#000" stroke-width="0.65" textLength="5.14" lengthAdjust="spacingAndGlyphs">4</text>
<text x="17.30" y="262.14" font-size="8.14" font-weight="bold" fill="#000" stroke="#000" stroke-width="0.65" textLength="5.10" lengthAdjust="spacingAndGlyphs">5</text>
<text x="33.21" y="443.44" font-size="7.99" font-weight="bold" fill="#000" stroke="#000" stroke-width="0.65" textLength="42.60" lengthAdjust="spacingAndGlyphs">CONTROL</text>
<text x="96.08" y="443.44" font-size="7.99" font-weight="bold" fill="#000" stroke="#000" stroke-width="0.65" textLength="8.88" lengthAdjust="spacingAndGlyphs">25</text>
<text x="139.36" y="443.44" font-size="7.99" font-weight="bold" fill="#000" stroke="#000" stroke-width="0.65" textLength="15.76" lengthAdjust="spacingAndGlyphs">100</text>
<text x="185.58" y="443.44" font-size="7.99" font-weight="bold" fill="#000" stroke="#000" stroke-width="0.65" textLength="15.34" lengthAdjust="spacingAndGlyphs">500</text>
<text x="100.45" y="452.95" font-size="10.06" font-weight="bold" fill="#000" stroke="#000" stroke-width="0.65" textLength="67.32" lengthAdjust="spacingAndGlyphs">[L-SK-4] (µM)</text>
<text x="-0.60" y="0" font-size="9.75" font-weight="bold" stroke="#000" stroke-width="0.65" textLength="112.80" lengthAdjust="spacingAndGlyphs" transform="translate(14.70,398.50) rotate(-90)">ROS FOLD OF INDUCTION</text>
<rect x="286.10" y="398.55" width="9.00" height="32.65" fill="#000"/>
<rect x="287.60" y="400.05" width="5.40" height="31.15" fill="#fff"/>
<rect x="294.50" y="398.87" width="9.00" height="32.33" fill="#000"/>
<rect x="296.00" y="400.37" width="5.40" height="30.83" fill="#000"/>
<rect x="302.90" y="398.23" width="8.40" height="32.97" fill="#000"/>
<rect x="304.40" y="399.73" width="5.40" height="31.47" fill="#444"/>
<rect x="328.50" y="390.62" width="9.00" height="40.58" fill="#000"/>
<rect x="330.00" y="392.12" width="5.40" height="39.08" fill="#fff"/>
<rect x="336.90" y="391.26" width="9.00" height="39.94" fill="#000"/>
<rect x="338.40" y="392.76" width="5.40" height="38.44" fill="#000"/>
<rect x="345.30" y="387.45" width="8.40" height="43.75" fill="#000"/>
<rect x="346.80" y="388.95" width="5.40" height="42.25" fill="#444"/>
<rect x="370.90" y="352.58" width="9.00" height="78.62" fill="#000"/>
<rect x="372.40" y="354.08" width="5.40" height="77.12" fill="#fff"/>
<rect x="379.30" y="351.00" width="9.00" height="80.20" fill="#000"/>
<rect x="380.80" y="352.50" width="5.40" height="78.70" fill="#000"/>
<rect x="387.70" y="329.44" width="8.40" height="101.76" fill="#000"/>
<rect x="389.20" y="330.94" width="5.40" height="100.26" fill="#444"/>
<rect x="412.50" y="345.93" width="9.00" height="85.27" fill="#000"/>
<rect x="414.00" y="347.43" width="5.40" height="83.77" fill="#fff"/>
<rect x="420.90" y="343.07" width="9.00" height="88.13" fill="#000"/>
<rect x="422.40" y="344.57" width="5.40" height="86.63" fill="#000"/>
<rect x="429.30" y="341.17" width="8.40" height="90.03" fill="#000"/>
<rect x="430.80" y="342.67" width="5.40" height="88.53" fill="#444"/>
<line x1="290.30" y1="400.05" x2="290.30" y2="399.50" stroke="#000" stroke-width="1.2"/>
<line x1="290.30" y1="397.60" x2="290.30" y2="399.30" stroke="#000" stroke-width="1.2"/>
<line x1="287.28" y1="397.60" x2="293.32" y2="397.60" stroke="#000" stroke-width="1.4"/>
<line x1="298.70" y1="400.37" x2="298.70" y2="399.50" stroke="#666" stroke-width="1.2"/>
<line x1="298.70" y1="398.23" x2="298.70" y2="399.62" stroke="#000" stroke-width="1.2"/>
<line x1="295.68" y1="398.23" x2="301.72" y2="398.23" stroke="#000" stroke-width="1.4"/>
<line x1="307.10" y1="399.73" x2="307.10" y2="399.50" stroke="#222" stroke-width="1.2"/>
<line x1="307.10" y1="396.96" x2="307.10" y2="398.98" stroke="#000" stroke-width="1.2"/>
<line x1="304.08" y1="396.96" x2="310.12" y2="396.96" stroke="#000" stroke-width="1.4"/>
<line x1="332.70" y1="392.12" x2="332.70" y2="392.53" stroke="#000" stroke-width="1.2"/>
<line x1="332.70" y1="388.72" x2="332.70" y2="391.37" stroke="#000" stroke-width="1.2"/>
<line x1="329.68" y1="388.72" x2="335.72" y2="388.72" stroke="#000" stroke-width="1.4"/>
<line x1="341.10" y1="392.76" x2="341.10" y2="391.89" stroke="#666" stroke-width="1.2"/>
<line x1="341.10" y1="390.62" x2="341.10" y2="392.01" stroke="#000" stroke-width="1.2"/>
<line x1="338.08" y1="390.62" x2="344.12" y2="390.62" stroke="#000" stroke-width="1.4"/>
<line x1="346.48" y1="390.62" x2="352.52" y2="390.62" stroke="#222" stroke-width="1.2"/>
<line x1="349.50" y1="388.95" x2="349.50" y2="390.62" stroke="#222" stroke-width="1.2"/>
<line x1="349.50" y1="384.28" x2="349.50" y2="388.20" stroke="#000" stroke-width="1.2"/>
<line x1="346.48" y1="384.28" x2="352.52" y2="384.28" stroke="#000" stroke-width="1.4"/>
<line x1="372.08" y1="357.34" x2="378.12" y2="357.34" stroke="#000" stroke-width="1.2"/>
<line x1="375.10" y1="354.08" x2="375.10" y2="357.34" stroke="#000" stroke-width="1.2"/>
<line x1="375.10" y1="347.83" x2="375.10" y2="353.33" stroke="#000" stroke-width="1.2"/>
<line x1="372.08" y1="347.83" x2="378.12" y2="347.83" stroke="#000" stroke-width="1.4"/>
<line x1="380.48" y1="353.54" x2="386.52" y2="353.54" stroke="#666" stroke-width="1.2"/>
<line x1="383.50" y1="352.50" x2="383.50" y2="353.54" stroke="#666" stroke-width="1.2"/>
<line x1="383.50" y1="348.46" x2="383.50" y2="351.75" stroke="#000" stroke-width="1.2"/>
<line x1="380.48" y1="348.46" x2="386.52" y2="348.46" stroke="#000" stroke-width="1.4"/>
<line x1="388.88" y1="337.37" x2="394.92" y2="337.37" stroke="#222" stroke-width="1.2"/>
<line x1="391.90" y1="330.94" x2="391.90" y2="337.37" stroke="#222" stroke-width="1.2"/>
<line x1="391.90" y1="321.52" x2="391.90" y2="330.19" stroke="#000" stroke-width="1.2"/>
<line x1="388.88" y1="321.52" x2="394.92" y2="321.52" stroke="#000" stroke-width="1.4"/>
<line x1="413.68" y1="350.68" x2="419.72" y2="350.68" stroke="#000" stroke-width="1.2"/>
<line x1="416.70" y1="347.43" x2="416.70" y2="350.68" stroke="#000" stroke-width="1.2"/>
<line x1="416.70" y1="341.17" x2="416.70" y2="346.68" stroke="#000" stroke-width="1.2"/>
<line x1="413.68" y1="341.17" x2="419.72" y2="341.17" stroke="#000" stroke-width="1.4"/>
<line x1="425.10" y1="344.57" x2="425.10" y2="344.66" stroke="#666" stroke-width="1.2"/>
<line x1="425.10" y1="341.49" x2="425.10" y2="343.82" stroke="#000" stroke-width="1.2"/>
<line x1="422.08" y1="341.49" x2="428.12" y2="341.49" stroke="#000" stroke-width="1.4"/>
<line x1="430.48" y1="348.78" x2="436.52" y2="348.78" stroke="#222" stroke-width="1.2"/>
<line x1="433.50" y1="342.67" x2="433.50" y2="348.78" stroke="#222" stroke-width="1.2"/>
<line x1="433.50" y1="333.56" x2="433.50" y2="341.92" stroke="#000" stroke-width="1.2"/>
<line x1="430.48" y1="333.56" x2="436.52" y2="333.56" stroke="#000" stroke-width="1.4"/>
<line x1="277.80" y1="271.90" x2="277.80" y2="432.20" stroke="#000" stroke-width="2.0"/>
<line x1="274.80" y1="431.20" x2="446.40" y2="431.20" stroke="#000" stroke-width="2.0"/>
<line x1="274.80" y1="431.20" x2="277.80" y2="431.20" stroke="#000" stroke-width="1.5"/>
<line x1="274.80" y1="399.50" x2="277.80" y2="399.50" stroke="#000" stroke-width="1.5"/>
<line x1="274.80" y1="367.80" x2="277.80" y2="367.80" stroke="#000" stroke-width="1.5"/>
<line x1="274.80" y1="336.10" x2="277.80" y2="336.10" stroke="#000" stroke-width="1.5"/>
<line x1="274.80" y1="304.40" x2="277.80" y2="304.40" stroke="#000" stroke-width="1.5"/>
<line x1="274.80" y1="272.70" x2="277.80" y2="272.70" stroke="#000" stroke-width="1.5"/>
<text x="263.07" y="434.34" font-size="8.14" font-weight="bold" fill="#000" stroke="#000" stroke-width="0.65" textLength="4.83" lengthAdjust="spacingAndGlyphs">0</text>
<text x="262.97" y="402.64" font-size="8.14" font-weight="bold" fill="#000" stroke="#000" stroke-width="0.65" textLength="4.81" lengthAdjust="spacingAndGlyphs">1</text>
<text x="263.05" y="370.94" font-size="8.14" font-weight="bold" fill="#000" stroke="#000" stroke-width="0.65" textLength="4.83" lengthAdjust="spacingAndGlyphs">2</text>
<text x="263.00" y="339.24" font-size="8.14" font-weight="bold" fill="#000" stroke="#000" stroke-width="0.65" textLength="4.85" lengthAdjust="spacingAndGlyphs">3</text>
<text x="262.69" y="307.54" font-size="8.14" font-weight="bold" fill="#000" stroke="#000" stroke-width="0.65" textLength="4.89" lengthAdjust="spacingAndGlyphs">4</text>
<text x="262.93" y="275.84" font-size="8.14" font-weight="bold" fill="#000" stroke="#000" stroke-width="0.65" textLength="4.85" lengthAdjust="spacingAndGlyphs">5</text>
<text x="280.76" y="446.44" font-size="7.56" font-weight="bold" fill="#000" stroke="#000" stroke-width="0.65" textLength="36.31" lengthAdjust="spacingAndGlyphs">CONTROL</text>
<text x="337.60" y="446.44" font-size="7.56" font-weight="bold" fill="#000" stroke="#000" stroke-width="0.65" textLength="8.35" lengthAdjust="spacingAndGlyphs">25</text>
<text x="377.35" y="446.44" font-size="7.56" font-weight="bold" fill="#000" stroke="#000" stroke-width="0.65" textLength="13.52" lengthAdjust="spacingAndGlyphs">100</text>
<text x="419.21" y="446.44" font-size="7.56" font-weight="bold" fill="#000" stroke="#000" stroke-width="0.65" textLength="13.77" lengthAdjust="spacingAndGlyphs">500</text>
<text x="325.91" y="454.50" font-size="9.31" font-weight="bold" fill="#000" stroke="#000" stroke-width="0.65" textLength="73.10" lengthAdjust="spacingAndGlyphs">[D-SK-4] (µM)</text>
<text x="-0.60" y="0" font-size="9.75" font-weight="bold" stroke="#000" stroke-width="0.65" textLength="113.71" lengthAdjust="spacingAndGlyphs" transform="translate(255.70,408.40) rotate(-90)">ROS FOLD OF INDUCTION</text>
<rect x="502.90" y="389.03" width="9.90" height="31.77" fill="#000"/>
<rect x="504.40" y="390.53" width="6.30" height="30.27" fill="#fff"/>
<rect x="512.20" y="389.34" width="9.90" height="31.46" fill="#000"/>
<rect x="513.70" y="390.84" width="6.30" height="29.96" fill="#000"/>
<rect x="521.50" y="389.34" width="9.30" height="31.46" fill="#000"/>
<rect x="523.00" y="390.84" width="6.30" height="29.96" fill="#666"/>
<rect x="547.90" y="386.19" width="9.90" height="34.61" fill="#000"/>
<rect x="549.40" y="387.69" width="6.30" height="33.11" fill="#fff"/>
<rect x="557.20" y="386.19" width="9.90" height="34.61" fill="#000"/>
<rect x="558.70" y="387.69" width="6.30" height="33.11" fill="#000"/>
<rect x="566.50" y="386.82" width="9.30" height="33.98" fill="#000"/>
<rect x="568.00" y="388.32" width="6.30" height="32.48" fill="#666"/>
<rect x="594.20" y="384.94" width="9.90" height="35.86" fill="#000"/>
<rect x="595.70" y="386.44" width="6.30" height="34.36" fill="#fff"/>
<rect x="603.50" y="385.56" width="9.90" height="35.24" fill="#000"/>
<rect x="605.00" y="387.06" width="6.30" height="33.74" fill="#000"/>
<rect x="612.80" y="387.45" width="9.30" height="33.35" fill="#000"/>
<rect x="614.30" y="388.95" width="6.30" height="31.85" fill="#666"/>
<rect x="639.60" y="378.64" width="9.90" height="42.16" fill="#000"/>
<rect x="641.10" y="380.14" width="6.30" height="40.66" fill="#fff"/>
<rect x="648.90" y="382.73" width="9.90" height="38.07" fill="#000"/>
<rect x="650.40" y="384.23" width="6.30" height="36.57" fill="#000"/>
<rect x="658.20" y="385.56" width="9.30" height="35.24" fill="#000"/>
<rect x="659.70" y="387.06" width="6.30" height="33.74" fill="#666"/>
<line x1="504.20" y1="394.06" x2="510.90" y2="394.06" stroke="#000" stroke-width="1.2"/>
<line x1="507.55" y1="390.53" x2="507.55" y2="394.06" stroke="#000" stroke-width="1.2"/>
<line x1="507.55" y1="383.99" x2="507.55" y2="389.78" stroke="#000" stroke-width="1.2"/>
<line x1="504.20" y1="383.99" x2="510.90" y2="383.99" stroke="#000" stroke-width="1.4"/>
<line x1="513.50" y1="391.54" x2="520.20" y2="391.54" stroke="#666" stroke-width="1.2"/>
<line x1="516.85" y1="390.84" x2="516.85" y2="391.54" stroke="#666" stroke-width="1.2"/>
<line x1="516.85" y1="387.14" x2="516.85" y2="390.09" stroke="#000" stroke-width="1.2"/>
<line x1="513.50" y1="387.14" x2="520.20" y2="387.14" stroke="#000" stroke-width="1.4"/>
<line x1="522.80" y1="391.86" x2="529.50" y2="391.86" stroke="#222" stroke-width="1.2"/>
<line x1="526.15" y1="390.84" x2="526.15" y2="391.86" stroke="#222" stroke-width="1.2"/>
<line x1="526.15" y1="386.82" x2="526.15" y2="390.09" stroke="#000" stroke-width="1.2"/>
<line x1="522.80" y1="386.82" x2="529.50" y2="386.82" stroke="#000" stroke-width="1.4"/>
<line x1="549.20" y1="389.34" x2="555.90" y2="389.34" stroke="#000" stroke-width="1.2"/>
<line x1="552.55" y1="387.69" x2="552.55" y2="389.34" stroke="#000" stroke-width="1.2"/>
<line x1="552.55" y1="383.05" x2="552.55" y2="386.94" stroke="#000" stroke-width="1.2"/>
<line x1="549.20" y1="383.05" x2="555.90" y2="383.05" stroke="#000" stroke-width="1.4"/>
<line x1="558.50" y1="389.34" x2="565.20" y2="389.34" stroke="#666" stroke-width="1.2"/>
<line x1="561.85" y1="387.69" x2="561.85" y2="389.34" stroke="#666" stroke-width="1.2"/>
<line x1="561.85" y1="383.05" x2="561.85" y2="386.94" stroke="#000" stroke-width="1.2"/>
<line x1="558.50" y1="383.05" x2="565.20" y2="383.05" stroke="#000" stroke-width="1.4"/>
<line x1="567.80" y1="389.03" x2="574.50" y2="389.03" stroke="#222" stroke-width="1.2"/>
<line x1="571.15" y1="388.32" x2="571.15" y2="389.03" stroke="#222" stroke-width="1.2"/>
<line x1="571.15" y1="384.62" x2="571.15" y2="387.57" stroke="#000" stroke-width="1.2"/>
<line x1="567.80" y1="384.62" x2="574.50" y2="384.62" stroke="#000" stroke-width="1.4"/>
<line x1="598.85" y1="386.44" x2="598.85" y2="385.56" stroke="#000" stroke-width="1.2"/>
<line x1="598.85" y1="384.31" x2="598.85" y2="385.69" stroke="#000" stroke-width="1.2"/>
<line x1="595.50" y1="384.31" x2="602.20" y2="384.31" stroke="#000" stroke-width="1.4"/>
<line x1="604.80" y1="392.17" x2="611.50" y2="392.17" stroke="#666" stroke-width="1.2"/>
<line x1="608.15" y1="387.06" x2="608.15" y2="392.17" stroke="#666" stroke-width="1.2"/>
<line x1="608.15" y1="378.96" x2="608.15" y2="386.31" stroke="#000" stroke-width="1.2"/>
<line x1="604.80" y1="378.96" x2="611.50" y2="378.96" stroke="#000" stroke-width="1.4"/>
<line x1="614.10" y1="395.95" x2="620.80" y2="395.95" stroke="#222" stroke-width="1.2"/>
<line x1="617.45" y1="388.95" x2="617.45" y2="395.95" stroke="#222" stroke-width="1.2"/>
<line x1="617.45" y1="378.96" x2="617.45" y2="388.20" stroke="#000" stroke-width="1.2"/>
<line x1="614.10" y1="378.96" x2="620.80" y2="378.96" stroke="#000" stroke-width="1.4"/>
<line x1="640.90" y1="383.99" x2="647.60" y2="383.99" stroke="#000" stroke-width="1.2"/>
<line x1="644.25" y1="380.14" x2="644.25" y2="383.99" stroke="#000" stroke-width="1.2"/>
<line x1="644.25" y1="373.30" x2="644.25" y2="379.39" stroke="#000" stroke-width="1.2"/>
<line x1="640.90" y1="373.30" x2="647.60" y2="373.30" stroke="#000" stroke-width="1.4"/>
<line x1="650.20" y1="388.40" x2="656.90" y2="388.40" stroke="#666" stroke-width="1.2"/>
<line x1="653.55" y1="384.23" x2="653.55" y2="388.40" stroke="#666" stroke-width="1.2"/>
<line x1="653.55" y1="377.07" x2="653.55" y2="383.48" stroke="#000" stroke-width="1.2"/>
<line x1="650.20" y1="377.07" x2="656.90" y2="377.07" stroke="#000" stroke-width="1.4"/>
<line x1="659.50" y1="388.40" x2="666.20" y2="388.40" stroke="#222" stroke-width="1.2"/>
<line x1="662.85" y1="387.06" x2="662.85" y2="388.40" stroke="#222" stroke-width="1.2"/>
<line x1="662.85" y1="382.73" x2="662.85" y2="386.31" stroke="#000" stroke-width="1.2"/>
<line x1="659.50" y1="382.73" x2="666.20" y2="382.73" stroke="#000" stroke-width="1.4"/>
<line x1="493.80" y1="262.70" x2="493.80" y2="421.80" stroke="#000" stroke-width="2.0"/>
<line x1="490.80" y1="420.80" x2="675.80" y2="420.80" stroke="#000" stroke-width="2.0"/>
<line x1="490.80" y1="420.80" x2="493.80" y2="420.80" stroke="#000" stroke-width="1.5"/>
<line x1="490.80" y1="389.34" x2="493.80" y2="389.34" stroke="#000" stroke-width="1.5"/>
<line x1="490.80" y1="357.88" x2="493.80" y2="357.88" stroke="#000" stroke-width="1.5"/>
<line x1="490.80" y1="326.42" x2="493.80" y2="326.42" stroke="#000" stroke-width="1.5"/>
<line x1="490.80" y1="294.96" x2="493.80" y2="294.96" stroke="#000" stroke-width="1.5"/>
<line x1="490.80" y1="263.50" x2="493.80" y2="263.50" stroke="#000" stroke-width="1.5"/>
<text x="479.49" y="423.99" font-size="8.28" font-weight="bold" fill="#000" stroke="#000" stroke-width="0.65" textLength="4.16" lengthAdjust="spacingAndGlyphs">0</text>
<text x="479.40" y="392.53" font-size="8.28" font-weight="bold" fill="#000" stroke="#000" stroke-width="0.65" textLength="4.15" lengthAdjust="spacingAndGlyphs">1</text>
<text x="479.47" y="361.07" font-size="8.28" font-weight="bold" fill="#000" stroke="#000" stroke-width="0.65" textLength="4.17" lengthAdjust="spacingAndGlyphs">2</text>
<text x="479.43" y="329.61" font-size="8.28" font-weight="bold" fill="#000" stroke="#000" stroke-width="0.65" textLength="4.19" lengthAdjust="spacingAndGlyphs">3</text>
<text x="479.15" y="298.15" font-size="8.28" font-weight="bold" fill="#000" stroke="#000" stroke-width="0.65" textLength="4.23" lengthAdjust="spacingAndGlyphs">4</text>
<text x="479.36" y="266.69" font-size="8.28" font-weight="bold" fill="#000" stroke="#000" stroke-width="0.65" textLength="4.19" lengthAdjust="spacingAndGlyphs">5</text>
<text x="495.51" y="438.04" font-size="8.42" font-weight="bold" fill="#000" stroke="#000" stroke-width="0.65" textLength="42.29" lengthAdjust="spacingAndGlyphs">CONTROL</text>
<text x="556.63" y="438.04" font-size="8.42" font-weight="bold" fill="#000" stroke="#000" stroke-width="0.65" textLength="10.57" lengthAdjust="spacingAndGlyphs">25</text>
<text x="599.31" y="438.04" font-size="8.42" font-weight="bold" fill="#000" stroke="#000" stroke-width="0.65" textLength="17.26" lengthAdjust="spacingAndGlyphs">100</text>
<text x="644.15" y="438.04" font-size="8.42" font-weight="bold" fill="#000" stroke="#000" stroke-width="0.65" textLength="16.80" lengthAdjust="spacingAndGlyphs">500</text>
<text x="549.33" y="450.29" font-size="10.81" font-weight="bold" fill="#000" stroke="#000" stroke-width="0.65" textLength="79.87" lengthAdjust="spacingAndGlyphs">[rac-SK-5] (µM)</text>
<text x="-0.60" y="0" font-size="9.75" font-weight="bold" stroke="#000" stroke-width="0.65" textLength="112.69" lengthAdjust="spacingAndGlyphs" transform="translate(471.70,397.40) rotate(-90)">ROS FOLD OF INDUCTION</text>
<rect x="164.20" y="634.65" width="11.00" height="35.35" fill="#000"/>
<rect x="165.70" y="636.15" width="7.40" height="33.85" fill="#fff"/>
<rect x="174.60" y="635.00" width="11.00" height="35.00" fill="#000"/>
<rect x="176.10" y="636.50" width="7.40" height="33.50" fill="#000"/>
<rect x="185.00" y="635.00" width="10.40" height="35.00" fill="#000"/>
<rect x="186.50" y="636.50" width="7.40" height="33.50" fill="#444"/>
<rect x="210.70" y="628.00" width="11.00" height="42.00" fill="#000"/>
<rect x="212.20" y="629.50" width="7.40" height="40.50" fill="#fff"/>
<rect x="221.10" y="628.70" width="11.00" height="41.30" fill="#000"/>
<rect x="222.60" y="630.20" width="7.40" height="39.80" fill="#000"/>
<rect x="231.50" y="626.60" width="10.40" height="43.40" fill="#000"/>
<rect x="233.00" y="628.10" width="7.40" height="41.90" fill="#444"/>
<rect x="256.10" y="628.35" width="11.00" height="41.65" fill="#000"/>
<rect x="257.60" y="629.85" width="7.40" height="40.15" fill="#fff"/>
<rect x="266.50" y="620.30" width="11.00" height="49.70" fill="#000"/>
<rect x="268.00" y="621.80" width="7.40" height="48.20" fill="#000"/>
<rect x="276.90" y="616.10" width="10.40" height="53.90" fill="#000"/>
<rect x="278.40" y="617.60" width="7.40" height="52.40" fill="#444"/>
<rect x="301.90" y="620.65" width="11.00" height="49.35" fill="#000"/>
<rect x="303.40" y="622.15" width="7.40" height="47.85" fill="#fff"/>
<rect x="312.30" y="612.60" width="11.00" height="57.40" fill="#000"/>
<rect x="313.80" y="614.10" width="7.40" height="55.90" fill="#000"/>
<rect x="322.70" y="605.95" width="10.40" height="64.05" fill="#000"/>
<rect x="324.20" y="607.45" width="7.40" height="62.55" fill="#444"/>
<line x1="165.66" y1="642.35" x2="173.14" y2="642.35" stroke="#000" stroke-width="1.2"/>
<line x1="169.40" y1="636.15" x2="169.40" y2="642.35" stroke="#000" stroke-width="1.2"/>
<line x1="169.40" y1="626.95" x2="169.40" y2="635.40" stroke="#000" stroke-width="1.2"/>
<line x1="165.66" y1="626.95" x2="173.14" y2="626.95" stroke="#000" stroke-width="1.4"/>
<line x1="176.06" y1="638.15" x2="183.54" y2="638.15" stroke="#666" stroke-width="1.2"/>
<line x1="179.80" y1="636.50" x2="179.80" y2="638.15" stroke="#666" stroke-width="1.2"/>
<line x1="179.80" y1="631.85" x2="179.80" y2="635.75" stroke="#000" stroke-width="1.2"/>
<line x1="176.06" y1="631.85" x2="183.54" y2="631.85" stroke="#000" stroke-width="1.4"/>
<line x1="190.20" y1="636.50" x2="190.20" y2="635.35" stroke="#222" stroke-width="1.2"/>
<line x1="190.20" y1="634.65" x2="190.20" y2="635.75" stroke="#000" stroke-width="1.2"/>
<line x1="186.46" y1="634.65" x2="193.94" y2="634.65" stroke="#000" stroke-width="1.4"/>
<line x1="215.90" y1="629.50" x2="215.90" y2="628.70" stroke="#000" stroke-width="1.2"/>
<line x1="215.90" y1="627.30" x2="215.90" y2="628.75" stroke="#000" stroke-width="1.2"/>
<line x1="212.16" y1="627.30" x2="219.64" y2="627.30" stroke="#000" stroke-width="1.4"/>
<line x1="222.56" y1="632.20" x2="230.04" y2="632.20" stroke="#666" stroke-width="1.2"/>
<line x1="226.30" y1="630.20" x2="226.30" y2="632.20" stroke="#666" stroke-width="1.2"/>
<line x1="226.30" y1="625.20" x2="226.30" y2="629.45" stroke="#000" stroke-width="1.2"/>
<line x1="222.56" y1="625.20" x2="230.04" y2="625.20" stroke="#000" stroke-width="1.4"/>
<line x1="236.70" y1="628.10" x2="236.70" y2="626.95" stroke="#222" stroke-width="1.2"/>
<line x1="236.70" y1="626.25" x2="236.70" y2="627.35" stroke="#000" stroke-width="1.2"/>
<line x1="232.96" y1="626.25" x2="240.44" y2="626.25" stroke="#000" stroke-width="1.4"/>
<line x1="261.30" y1="629.85" x2="261.30" y2="628.70" stroke="#000" stroke-width="1.2"/>
<line x1="261.30" y1="628.00" x2="261.30" y2="629.10" stroke="#000" stroke-width="1.2"/>
<line x1="257.56" y1="628.00" x2="265.04" y2="628.00" stroke="#000" stroke-width="1.4"/>
<line x1="267.96" y1="628.00" x2="275.44" y2="628.00" stroke="#666" stroke-width="1.2"/>
<line x1="271.70" y1="621.80" x2="271.70" y2="628.00" stroke="#666" stroke-width="1.2"/>
<line x1="271.70" y1="612.60" x2="271.70" y2="621.05" stroke="#000" stroke-width="1.2"/>
<line x1="267.96" y1="612.60" x2="275.44" y2="612.60" stroke="#000" stroke-width="1.4"/>
<line x1="278.36" y1="623.10" x2="285.84" y2="623.10" stroke="#222" stroke-width="1.2"/>
<line x1="282.10" y1="617.60" x2="282.10" y2="623.10" stroke="#222" stroke-width="1.2"/>
<line x1="282.10" y1="609.10" x2="282.10" y2="616.85" stroke="#000" stroke-width="1.2"/>
<line x1="278.36" y1="609.10" x2="285.84" y2="609.10" stroke="#000" stroke-width="1.4"/>
<line x1="303.36" y1="625.20" x2="310.84" y2="625.20" stroke="#000" stroke-width="1.2"/>
<line x1="307.10" y1="622.15" x2="307.10" y2="625.20" stroke="#000" stroke-width="1.2"/>
<line x1="307.10" y1="616.10" x2="307.10" y2="621.40" stroke="#000" stroke-width="1.2"/>
<line x1="303.36" y1="616.10" x2="310.84" y2="616.10" stroke="#000" stroke-width="1.4"/>
<line x1="313.76" y1="617.15" x2="321.24" y2="617.15" stroke="#666" stroke-width="1.2"/>
<line x1="317.50" y1="614.10" x2="317.50" y2="617.15" stroke="#666" stroke-width="1.2"/>
<line x1="317.50" y1="608.05" x2="317.50" y2="613.35" stroke="#000" stroke-width="1.2"/>
<line x1="313.76" y1="608.05" x2="321.24" y2="608.05" stroke="#000" stroke-width="1.4"/>
<line x1="327.90" y1="607.45" x2="327.90" y2="606.30" stroke="#222" stroke-width="1.2"/>
<line x1="327.90" y1="605.60" x2="327.90" y2="606.70" stroke="#000" stroke-width="1.2"/>
<line x1="324.16" y1="605.60" x2="331.64" y2="605.60" stroke="#000" stroke-width="1.4"/>
<line x1="157.50" y1="494.20" x2="157.50" y2="671.00" stroke="#000" stroke-width="2.0"/>
<line x1="154.50" y1="670.00" x2="340.60" y2="670.00" stroke="#000" stroke-width="2.0"/>
<line x1="154.50" y1="670.00" x2="157.50" y2="670.00" stroke="#000" stroke-width="1.5"/>
<line x1="154.50" y1="635.00" x2="157.50" y2="635.00" stroke="#000" stroke-width="1.5"/>
<line x1="154.50" y1="600.00" x2="157.50" y2="600.00" stroke="#000" stroke-width="1.5"/>
<line x1="154.50" y1="565.00" x2="157.50" y2="565.00" stroke="#000" stroke-width="1.5"/>
<line x1="154.50" y1="530.00" x2="157.50" y2="530.00" stroke="#000" stroke-width="1.5"/>
<line x1="154.50" y1="495.00" x2="157.50" y2="495.00" stroke="#000" stroke-width="1.5"/>
<line x1="179.80" y1="670.00" x2="179.80" y2="672.60" stroke="#000" stroke-width="1.3"/>
<line x1="226.30" y1="670.00" x2="226.30" y2="672.60" stroke="#000" stroke-width="1.3"/>
<line x1="271.70" y1="670.00" x2="271.70" y2="672.60" stroke="#000" stroke-width="1.3"/>
<line x1="317.50" y1="670.00" x2="317.50" y2="672.60" stroke="#000" stroke-width="1.3"/>
<line x1="340.00" y1="670.00" x2="340.00" y2="672.60" stroke="#000" stroke-width="1.3"/>
<text x="141.09" y="674.04" font-size="10.72" font-weight="bold" fill="#000" stroke="#000" stroke-width="0.65" textLength="5.45" lengthAdjust="spacingAndGlyphs">0</text>
<text x="140.98" y="639.04" font-size="10.72" font-weight="bold" fill="#000" stroke="#000" stroke-width="0.65" textLength="5.43" lengthAdjust="spacingAndGlyphs">1</text>
<text x="141.08" y="604.04" font-size="10.72" font-weight="bold" fill="#000" stroke="#000" stroke-width="0.65" textLength="5.45" lengthAdjust="spacingAndGlyphs">2</text>
<text x="141.02" y="569.04" font-size="10.72" font-weight="bold" fill="#000" stroke="#000" stroke-width="0.65" textLength="5.47" lengthAdjust="spacingAndGlyphs">3</text>
<text x="140.68" y="534.04" font-size="10.72" font-weight="bold" fill="#000" stroke="#000" stroke-width="0.65" textLength="5.52" lengthAdjust="spacingAndGlyphs">4</text>
<text x="140.94" y="499.04" font-size="10.72" font-weight="bold" fill="#000" stroke="#000" stroke-width="0.65" textLength="5.47" lengthAdjust="spacingAndGlyphs">5</text>
<text x="158.81" y="687.24" font-size="8.42" font-weight="bold" fill="#000" stroke="#000" stroke-width="0.65" textLength="42.60" lengthAdjust="spacingAndGlyphs">CONTROL</text>
<text x="220.75" y="687.24" font-size="8.42" font-weight="bold" fill="#000" stroke="#000" stroke-width="0.65" textLength="9.83" lengthAdjust="spacingAndGlyphs">25</text>
<text x="264.03" y="687.24" font-size="8.42" font-weight="bold" fill="#000" stroke="#000" stroke-width="0.65" textLength="16.72" lengthAdjust="spacingAndGlyphs">100</text>
<text x="309.66" y="687.24" font-size="8.42" font-weight="bold" fill="#000" stroke="#000" stroke-width="0.65" textLength="16.07" lengthAdjust="spacingAndGlyphs">500</text>
<text x="214.94" y="701.76" font-size="10.49" font-weight="bold" fill="#000" stroke="#000" stroke-width="0.65" textLength="68.65" lengthAdjust="spacingAndGlyphs">[L-SK-4] (µM)</text>
<text x="-0.69" y="0" font-size="11.16" font-weight="bold" stroke="#000" stroke-width="0.65" textLength="113.89" lengthAdjust="spacingAndGlyphs" transform="translate(131.69,638.40) rotate(-90)">ROS FOLD INDUCTION</text>
<rect x="402.00" y="633.12" width="11.45" height="36.08" fill="#000"/>
<rect x="403.50" y="634.62" width="7.85" height="34.58" fill="#fff"/>
<rect x="412.85" y="632.05" width="11.45" height="37.15" fill="#000"/>
<rect x="414.35" y="633.55" width="7.85" height="35.65" fill="#000"/>
<rect x="423.70" y="632.77" width="10.85" height="36.43" fill="#000"/>
<rect x="425.20" y="634.27" width="7.85" height="34.93" fill="#444"/>
<rect x="449.90" y="632.77" width="11.45" height="36.43" fill="#000"/>
<rect x="451.40" y="634.27" width="7.85" height="34.93" fill="#fff"/>
<rect x="460.75" y="631.34" width="11.45" height="37.86" fill="#000"/>
<rect x="462.25" y="632.84" width="7.85" height="36.36" fill="#000"/>
<rect x="471.60" y="624.19" width="10.85" height="45.01" fill="#000"/>
<rect x="473.10" y="625.69" width="7.85" height="43.51" fill="#444"/>
<rect x="497.10" y="617.41" width="11.45" height="51.79" fill="#000"/>
<rect x="498.60" y="618.91" width="7.85" height="50.29" fill="#fff"/>
<rect x="507.95" y="593.47" width="11.45" height="75.73" fill="#000"/>
<rect x="509.45" y="594.97" width="7.85" height="74.23" fill="#000"/>
<rect x="518.80" y="572.04" width="10.85" height="97.16" fill="#000"/>
<rect x="520.30" y="573.54" width="7.85" height="95.66" fill="#444"/>
<rect x="543.70" y="588.12" width="11.45" height="81.08" fill="#000"/>
<rect x="545.20" y="589.62" width="7.85" height="79.58" fill="#fff"/>
<rect x="554.55" y="579.90" width="11.45" height="89.30" fill="#000"/>
<rect x="556.05" y="581.40" width="7.85" height="87.80" fill="#000"/>
<rect x="565.40" y="560.25" width="10.85" height="108.95" fill="#000"/>
<rect x="566.90" y="561.75" width="7.85" height="107.45" fill="#444"/>
<line x1="403.52" y1="636.34" x2="411.33" y2="636.34" stroke="#000" stroke-width="1.2"/>
<line x1="407.43" y1="634.62" x2="407.43" y2="636.34" stroke="#000" stroke-width="1.2"/>
<line x1="407.43" y1="629.91" x2="407.43" y2="633.87" stroke="#000" stroke-width="1.2"/>
<line x1="403.52" y1="629.91" x2="411.33" y2="629.91" stroke="#000" stroke-width="1.4"/>
<line x1="418.28" y1="633.55" x2="418.28" y2="632.77" stroke="#666" stroke-width="1.2"/>
<line x1="418.28" y1="631.34" x2="418.28" y2="632.80" stroke="#000" stroke-width="1.2"/>
<line x1="414.37" y1="631.34" x2="422.18" y2="631.34" stroke="#000" stroke-width="1.4"/>
<line x1="429.12" y1="634.27" x2="429.12" y2="633.12" stroke="#222" stroke-width="1.2"/>
<line x1="429.12" y1="632.41" x2="429.12" y2="633.52" stroke="#000" stroke-width="1.2"/>
<line x1="425.22" y1="632.41" x2="433.03" y2="632.41" stroke="#000" stroke-width="1.4"/>
<line x1="455.32" y1="634.27" x2="455.32" y2="634.91" stroke="#000" stroke-width="1.2"/>
<line x1="455.32" y1="630.62" x2="455.32" y2="633.52" stroke="#000" stroke-width="1.2"/>
<line x1="451.42" y1="630.62" x2="459.23" y2="630.62" stroke="#000" stroke-width="1.4"/>
<line x1="462.27" y1="639.55" x2="470.08" y2="639.55" stroke="#666" stroke-width="1.2"/>
<line x1="466.18" y1="632.84" x2="466.18" y2="639.55" stroke="#666" stroke-width="1.2"/>
<line x1="466.18" y1="623.12" x2="466.18" y2="632.09" stroke="#000" stroke-width="1.2"/>
<line x1="462.27" y1="623.12" x2="470.08" y2="623.12" stroke="#000" stroke-width="1.4"/>
<line x1="473.12" y1="627.41" x2="480.93" y2="627.41" stroke="#222" stroke-width="1.2"/>
<line x1="477.02" y1="625.69" x2="477.02" y2="627.41" stroke="#222" stroke-width="1.2"/>
<line x1="477.02" y1="620.98" x2="477.02" y2="624.94" stroke="#000" stroke-width="1.2"/>
<line x1="473.12" y1="620.98" x2="480.93" y2="620.98" stroke="#000" stroke-width="1.4"/>
<line x1="502.53" y1="618.91" x2="502.53" y2="618.48" stroke="#000" stroke-width="1.2"/>
<line x1="502.53" y1="616.33" x2="502.53" y2="618.16" stroke="#000" stroke-width="1.2"/>
<line x1="498.62" y1="616.33" x2="506.43" y2="616.33" stroke="#000" stroke-width="1.4"/>
<line x1="509.47" y1="598.83" x2="517.28" y2="598.83" stroke="#666" stroke-width="1.2"/>
<line x1="513.38" y1="594.97" x2="513.38" y2="598.83" stroke="#666" stroke-width="1.2"/>
<line x1="513.38" y1="588.12" x2="513.38" y2="594.22" stroke="#000" stroke-width="1.2"/>
<line x1="509.47" y1="588.12" x2="517.28" y2="588.12" stroke="#000" stroke-width="1.4"/>
<line x1="520.32" y1="576.33" x2="528.13" y2="576.33" stroke="#222" stroke-width="1.2"/>
<line x1="524.23" y1="573.54" x2="524.23" y2="576.33" stroke="#222" stroke-width="1.2"/>
<line x1="524.23" y1="567.76" x2="524.23" y2="572.79" stroke="#000" stroke-width="1.2"/>
<line x1="520.32" y1="567.76" x2="528.13" y2="567.76" stroke="#000" stroke-width="1.4"/>
<line x1="545.22" y1="594.55" x2="553.03" y2="594.55" stroke="#000" stroke-width="1.2"/>
<line x1="549.12" y1="589.62" x2="549.12" y2="594.55" stroke="#000" stroke-width="1.2"/>
<line x1="549.12" y1="581.69" x2="549.12" y2="588.87" stroke="#000" stroke-width="1.2"/>
<line x1="545.22" y1="581.69" x2="553.03" y2="581.69" stroke="#000" stroke-width="1.4"/>
<line x1="556.07" y1="587.04" x2="563.88" y2="587.04" stroke="#666" stroke-width="1.2"/>
<line x1="559.98" y1="581.40" x2="559.98" y2="587.04" stroke="#666" stroke-width="1.2"/>
<line x1="559.98" y1="572.76" x2="559.98" y2="580.65" stroke="#000" stroke-width="1.2"/>
<line x1="556.07" y1="572.76" x2="563.88" y2="572.76" stroke="#000" stroke-width="1.4"/>
<line x1="566.92" y1="569.18" x2="574.73" y2="569.18" stroke="#222" stroke-width="1.2"/>
<line x1="570.83" y1="561.75" x2="570.83" y2="569.18" stroke="#222" stroke-width="1.2"/>
<line x1="570.83" y1="551.32" x2="570.83" y2="561.00" stroke="#000" stroke-width="1.2"/>
<line x1="566.92" y1="551.32" x2="574.73" y2="551.32" stroke="#000" stroke-width="1.4"/>
<line x1="395.60" y1="489.80" x2="395.60" y2="670.20" stroke="#000" stroke-width="2.0"/>
<line x1="392.60" y1="669.20" x2="583.00" y2="669.20" stroke="#000" stroke-width="2.0"/>
<line x1="392.60" y1="669.20" x2="395.60" y2="669.20" stroke="#000" stroke-width="1.5"/>
<line x1="392.60" y1="633.48" x2="395.60" y2="633.48" stroke="#000" stroke-width="1.5"/>
<line x1="392.60" y1="597.76" x2="395.60" y2="597.76" stroke="#000" stroke-width="1.5"/>
<line x1="392.60" y1="562.04" x2="395.60" y2="562.04" stroke="#000" stroke-width="1.5"/>
<line x1="392.60" y1="526.32" x2="395.60" y2="526.32" stroke="#000" stroke-width="1.5"/>
<line x1="392.60" y1="490.60" x2="395.60" y2="490.60" stroke="#000" stroke-width="1.5"/>
<line x1="418.27" y1="669.20" x2="418.27" y2="671.80" stroke="#000" stroke-width="1.3"/>
<line x1="466.17" y1="669.20" x2="466.17" y2="671.80" stroke="#000" stroke-width="1.3"/>
<line x1="513.38" y1="669.20" x2="513.38" y2="671.80" stroke="#000" stroke-width="1.3"/>
<line x1="559.98" y1="669.20" x2="559.98" y2="671.80" stroke="#000" stroke-width="1.3"/>
<line x1="582.40" y1="669.20" x2="582.40" y2="671.80" stroke="#000" stroke-width="1.3"/>
<text x="378.97" y="673.04" font-size="10.14" font-weight="bold" fill="#000" stroke="#000" stroke-width="0.65" textLength="5.14" lengthAdjust="spacingAndGlyphs">0</text>
<text x="378.87" y="637.32" font-size="10.14" font-weight="bold" fill="#000" stroke="#000" stroke-width="0.65" textLength="5.13" lengthAdjust="spacingAndGlyphs">1</text>
<text x="378.96" y="601.60" font-size="10.14" font-weight="bold" fill="#000" stroke="#000" stroke-width="0.65" textLength="5.15" lengthAdjust="spacingAndGlyphs">2</text>
<text x="378.91" y="565.88" font-size="10.14" font-weight="bold" fill="#000" stroke="#000" stroke-width="0.65" textLength="5.17" lengthAdjust="spacingAndGlyphs">3</text>
<text x="378.58" y="530.16" font-size="10.14" font-weight="bold" fill="#000" stroke="#000" stroke-width="0.65" textLength="5.21" lengthAdjust="spacingAndGlyphs">4</text>
<text x="378.83" y="494.44" font-size="10.14" font-weight="bold" fill="#000" stroke="#000" stroke-width="0.65" textLength="5.17" lengthAdjust="spacingAndGlyphs">5</text>
<text x="398.01" y="686.44" font-size="8.85" font-weight="bold" fill="#000" stroke="#000" stroke-width="0.65" textLength="41.79" lengthAdjust="spacingAndGlyphs">CONTROL</text>
<text x="459.93" y="686.44" font-size="8.85" font-weight="bold" fill="#000" stroke="#000" stroke-width="0.65" textLength="10.68" lengthAdjust="spacingAndGlyphs">25</text>
<text x="504.94" y="686.44" font-size="8.85" font-weight="bold" fill="#000" stroke="#000" stroke-width="0.65" textLength="16.40" lengthAdjust="spacingAndGlyphs">100</text>
<text x="551.65" y="686.44" font-size="8.85" font-weight="bold" fill="#000" stroke="#000" stroke-width="0.65" textLength="16.91" lengthAdjust="spacingAndGlyphs">500</text>
<text x="454.14" y="702.26" font-size="10.49" font-weight="bold" fill="#000" stroke="#000" stroke-width="0.65" textLength="69.26" lengthAdjust="spacingAndGlyphs">[L-SK-4] (µM)</text>
<text x="-0.69" y="0" font-size="12.01" font-weight="bold" stroke="#000" stroke-width="0.65" textLength="130.48" lengthAdjust="spacingAndGlyphs" transform="translate(370.48,643.60) rotate(-90)">ROS FOLD OF INDUCTION</text>
<line x1="102.30" y1="55.20" x2="115.90" y2="47.20" stroke="#000" stroke-width="1.35"/>
<line x1="115.90" y1="47.20" x2="130.10" y2="55.20" stroke="#000" stroke-width="1.35"/>
<line x1="116.90" y1="50.75" x2="126.55" y2="56.19" stroke="#000" stroke-width="1.35"/>
<line x1="130.10" y1="55.20" x2="130.10" y2="66.80" stroke="#000" stroke-width="1.35"/>
<line x1="125.80" y1="74.90" x2="115.90" y2="78.80" stroke="#000" stroke-width="1.35"/>
<line x1="115.90" y1="78.80" x2="102.30" y2="71.00" stroke="#000" stroke-width="1.35"/>
<line x1="115.02" y1="75.30" x2="105.77" y2="69.99" stroke="#000" stroke-width="1.35"/>
<line x1="102.30" y1="71.00" x2="102.30" y2="55.20" stroke="#000" stroke-width="1.35"/>
<line x1="102.95" y1="54.07" x2="94.25" y2="49.07" stroke="#000" stroke-width="1.35"/>
<line x1="101.65" y1="56.33" x2="92.95" y2="51.33" stroke="#000" stroke-width="1.35"/>
<line x1="115.90" y1="47.20" x2="115.60" y2="38.60" stroke="#000" stroke-width="1.35"/>
<text x="110.95" y="36.80" font-size="10.17" font-weight="normal" fill="#000" stroke="#000" stroke-width="0.25" textLength="17.39" lengthAdjust="spacingAndGlyphs">OH</text>
<text x="84.39" y="51.30" font-size="10.60" font-weight="normal" fill="#000" stroke="#000" stroke-width="0.25" textLength="8.32" lengthAdjust="spacingAndGlyphs">O</text>
<text x="125.41" y="75.20" font-size="10.31" font-weight="normal" fill="#000" stroke="#000" stroke-width="0.25" textLength="8.09" lengthAdjust="spacingAndGlyphs">O</text>
<line x1="115.90" y1="78.80" x2="115.80" y2="94.90" stroke="#000" stroke-width="1.35"/>
<line x1="115.80" y1="94.90" x2="130.30" y2="103.40" stroke="#000" stroke-width="1.35"/>
<polyline points="130.30,103.40 131.35,103.66 131.97,103.26 132.18,102.20 132.38,101.14 133.00,100.74 134.05,101.00 135.10,101.26 135.72,100.86 135.93,99.80 136.13,98.74 136.75,98.34 137.80,98.60" fill="none" stroke="#000" stroke-width="1.0"/>
<line x1="130.30" y1="103.40" x2="130.30" y2="119.20" stroke="#000" stroke-width="1.35"/>
<line x1="129.73" y1="118.03" x2="120.63" y2="122.43" stroke="#000" stroke-width="1.35"/>
<line x1="130.87" y1="120.37" x2="121.77" y2="124.77" stroke="#000" stroke-width="1.35"/>
<line x1="130.30" y1="119.20" x2="138.00" y2="123.20" stroke="#000" stroke-width="1.35"/>
<text x="138.49" y="99.30" font-size="11.19" font-weight="normal" transform="translate(138.49,0) scale(0.9949,1) translate(-138.49,0)">NH<tspan font-size="7.61" dy="2.80">2</tspan></text>
<text x="111.81" y="129.90" font-size="11.31" font-weight="normal" fill="#000" stroke="#000" stroke-width="0.25" textLength="8.09" lengthAdjust="spacingAndGlyphs">O</text>
<text x="139.19" y="129.90" font-size="11.31" font-weight="normal" fill="#000" stroke="#000" stroke-width="0.25" textLength="16.19" lengthAdjust="spacingAndGlyphs">OH</text>
<line x1="314.50" y1="58.10" x2="328.10" y2="49.60" stroke="#000" stroke-width="1.35"/>
<line x1="328.10" y1="49.60" x2="340.80" y2="58.10" stroke="#000" stroke-width="1.35"/>
<line x1="328.69" y1="53.12" x2="337.32" y2="58.90" stroke="#000" stroke-width="1.35"/>
<line x1="340.80" y1="58.10" x2="340.80" y2="69.80" stroke="#000" stroke-width="1.35"/>
<line x1="337.30" y1="77.80" x2="328.10" y2="82.60" stroke="#000" stroke-width="1.35"/>
<line x1="328.10" y1="82.60" x2="314.50" y2="74.10" stroke="#000" stroke-width="1.35"/>
<line x1="327.30" y1="79.04" x2="318.05" y2="73.26" stroke="#000" stroke-width="1.35"/>
<line x1="314.50" y1="74.10" x2="314.50" y2="58.10" stroke="#000" stroke-width="1.35"/>
<line x1="315.15" y1="56.97" x2="307.65" y2="52.67" stroke="#000" stroke-width="1.35"/>
<line x1="313.85" y1="59.23" x2="306.35" y2="54.93" stroke="#000" stroke-width="1.35"/>
<line x1="328.10" y1="49.60" x2="328.10" y2="41.50" stroke="#000" stroke-width="1.35"/>
<text x="323.38" y="40.30" font-size="9.88" font-weight="normal" fill="#000" stroke="#000" stroke-width="0.25" textLength="16.52" lengthAdjust="spacingAndGlyphs">OH</text>
<text x="297.35" y="56.10" font-size="11.17" font-weight="normal" fill="#000" stroke="#000" stroke-width="0.25" textLength="9.00" lengthAdjust="spacingAndGlyphs">O</text>
<text x="335.74" y="78.30" font-size="10.47" font-weight="normal" fill="#000" stroke="#000" stroke-width="0.25" textLength="16.92" lengthAdjust="spacingAndGlyphs">NH</text>
<line x1="328.10" y1="82.60" x2="327.80" y2="97.20" stroke="#000" stroke-width="1.35"/>
<line x1="327.80" y1="97.20" x2="341.40" y2="105.40" stroke="#000" stroke-width="1.35"/>
<polyline points="341.40,105.40 342.46,105.63 343.08,105.22 343.27,104.15 343.47,103.08 344.09,102.67 345.15,102.90 346.21,103.13 346.83,102.72 347.02,101.65 347.22,100.58 347.84,100.17 348.90,100.40" fill="none" stroke="#000" stroke-width="1.0"/>
<line x1="341.40" y1="105.40" x2="341.40" y2="120.70" stroke="#000" stroke-width="1.35"/>
<line x1="340.83" y1="119.53" x2="331.83" y2="123.93" stroke="#000" stroke-width="1.35"/>
<line x1="341.97" y1="121.87" x2="332.97" y2="126.27" stroke="#000" stroke-width="1.35"/>
<line x1="341.40" y1="120.70" x2="348.90" y2="124.40" stroke="#000" stroke-width="1.35"/>
<text x="349.79" y="101.00" font-size="11.19" font-weight="normal" transform="translate(349.79,0) scale(0.9897,1) translate(-349.79,0)">NH<tspan font-size="7.61" dy="2.80">2</tspan></text>
<text x="324.01" y="130.80" font-size="10.60" font-weight="normal" fill="#000" stroke="#000" stroke-width="0.25" textLength="8.09" lengthAdjust="spacingAndGlyphs">O</text>
<text x="349.90" y="130.80" font-size="10.60" font-weight="normal" fill="#000" stroke="#000" stroke-width="0.25" textLength="15.86" lengthAdjust="spacingAndGlyphs">OH</text>
<line x1="554.50" y1="44.20" x2="564.80" y2="50.30" stroke="#000" stroke-width="1.35"/>
<line x1="568.50" y1="57.40" x2="568.70" y2="68.50" stroke="#000" stroke-width="1.35"/>
<line x1="568.70" y1="68.50" x2="554.50" y2="77.00" stroke="#000" stroke-width="1.35"/>
<line x1="565.09" y1="67.63" x2="555.44" y2="73.41" stroke="#000" stroke-width="1.35"/>
<line x1="554.50" y1="77.00" x2="539.60" y2="69.20" stroke="#000" stroke-width="1.35"/>
<line x1="539.60" y1="69.20" x2="539.60" y2="52.80" stroke="#000" stroke-width="1.35"/>
<line x1="542.20" y1="66.58" x2="542.20" y2="55.42" stroke="#000" stroke-width="1.35"/>
<line x1="539.60" y1="52.80" x2="554.50" y2="44.20" stroke="#000" stroke-width="1.35"/>
<line x1="555.80" y1="44.20" x2="555.80" y2="34.40" stroke="#000" stroke-width="1.35"/>
<line x1="553.20" y1="44.20" x2="553.20" y2="34.40" stroke="#000" stroke-width="1.35"/>
<line x1="572.00" y1="50.30" x2="578.40" y2="46.80" stroke="#000" stroke-width="1.35"/>
<text x="549.86" y="32.60" font-size="11.46" font-weight="normal" fill="#000" stroke="#000" stroke-width="0.25" textLength="8.89" lengthAdjust="spacingAndGlyphs">O</text>
<text x="563.64" y="56.40" font-size="10.32" font-weight="normal" fill="#000" stroke="#000" stroke-width="0.25" textLength="9.31" lengthAdjust="spacingAndGlyphs">N</text>
<text x="578.55" y="48.60" font-size="10.31" font-weight="normal" fill="#000" stroke="#000" stroke-width="0.25" textLength="17.39" lengthAdjust="spacingAndGlyphs">OH</text>
<line x1="554.50" y1="77.00" x2="554.30" y2="94.60" stroke="#000" stroke-width="1.35"/>
<line x1="554.30" y1="94.60" x2="569.20" y2="103.40" stroke="#000" stroke-width="1.35"/>
<polyline points="569.20,103.40 570.22,103.75 570.89,103.41 571.20,102.38 571.51,101.34 572.18,101.00 573.20,101.35 574.22,101.70 574.89,101.36 575.20,100.33 575.51,99.29 576.18,98.95 577.20,99.30" fill="none" stroke="#000" stroke-width="1.0"/>
<line x1="569.20" y1="103.40" x2="569.20" y2="120.90" stroke="#000" stroke-width="1.35"/>
<line x1="568.59" y1="119.75" x2="559.09" y2="124.85" stroke="#000" stroke-width="1.35"/>
<line x1="569.81" y1="122.05" x2="560.31" y2="127.15" stroke="#000" stroke-width="1.35"/>
<line x1="569.20" y1="120.90" x2="577.60" y2="124.50" stroke="#000" stroke-width="1.35"/>
<text x="578.85" y="99.00" font-size="11.19" font-weight="normal" transform="translate(578.85,0) scale(1.0368,1) translate(-578.85,0)">NH<tspan font-size="7.61" dy="2.80">2</tspan></text>
<text x="550.21" y="131.80" font-size="11.31" font-weight="normal" fill="#000" stroke="#000" stroke-width="0.25" textLength="8.09" lengthAdjust="spacingAndGlyphs">O</text>
<text x="578.95" y="131.80" font-size="11.31" font-weight="normal" fill="#000" stroke="#000" stroke-width="0.25" textLength="17.39" lengthAdjust="spacingAndGlyphs">OH</text>
<line x1="67.90" y1="284.90" x2="80.60" y2="292.20" stroke="#000" stroke-width="1.35"/>
<line x1="80.60" y1="292.20" x2="80.60" y2="306.70" stroke="#000" stroke-width="1.35"/>
<line x1="78.00" y1="294.52" x2="78.00" y2="304.38" stroke="#000" stroke-width="1.35"/>
<line x1="80.60" y1="306.70" x2="71.30" y2="312.49" stroke="#000" stroke-width="1.35"/>
<line x1="64.50" y1="312.49" x2="55.20" y2="306.70" stroke="#000" stroke-width="1.35"/>
<line x1="55.20" y1="306.70" x2="55.20" y2="292.20" stroke="#000" stroke-width="1.35"/>
<line x1="57.80" y1="304.38" x2="57.80" y2="294.52" stroke="#000" stroke-width="1.35"/>
<line x1="55.20" y1="292.20" x2="67.90" y2="284.90" stroke="#000" stroke-width="1.35"/>
<line x1="69.20" y1="284.90" x2="69.20" y2="276.40" stroke="#000" stroke-width="1.35"/>
<line x1="66.60" y1="284.90" x2="66.60" y2="276.40" stroke="#000" stroke-width="1.35"/>
<line x1="80.60" y1="292.20" x2="88.60" y2="288.60" stroke="#000" stroke-width="1.35"/>
<line x1="80.60" y1="306.70" x2="93.50" y2="314.30" stroke="#000" stroke-width="1.35"/>
<line x1="67.60" y1="319.40" x2="67.30" y2="329.10" stroke="#000" stroke-width="1.35"/>
<line x1="67.30" y1="329.10" x2="80.80" y2="336.10" stroke="#000" stroke-width="1.35"/>
<line x1="80.80" y1="336.10" x2="80.80" y2="351.10" stroke="#000" stroke-width="1.35"/>
<polygon points="80.80,336.10 89.47,333.38 87.73,330.22" fill="#000"/>
<line x1="80.10" y1="350.01" x2="71.70" y2="355.41" stroke="#000" stroke-width="1.35"/>
<line x1="81.50" y1="352.19" x2="73.10" y2="357.59" stroke="#000" stroke-width="1.35"/>
<line x1="80.80" y1="351.10" x2="88.50" y2="355.80" stroke="#000" stroke-width="1.35"/>
<text x="64.20" y="275.10" font-size="11.17" font-weight="normal" fill="#000" stroke="#000" stroke-width="0.25" textLength="8.20" lengthAdjust="spacingAndGlyphs">O</text>
<text x="88.55" y="289.50" font-size="10.17" font-weight="normal" fill="#000" stroke="#000" stroke-width="0.25" textLength="17.39" lengthAdjust="spacingAndGlyphs">OH</text>
<text x="64.43" y="318.40" font-size="10.32" font-weight="normal" fill="#000" stroke="#000" stroke-width="0.25" textLength="8.53" lengthAdjust="spacingAndGlyphs">N</text>
<text x="89.42" y="333.20" font-size="10.17" font-weight="normal" transform="translate(89.42,0) scale(1.0541,1) translate(-89.42,0)">NH<tspan font-size="6.92" dy="2.54">2</tspan></text>
<text x="64.04" y="362.70" font-size="9.74" font-weight="normal" fill="#000" stroke="#000" stroke-width="0.25" textLength="7.63" lengthAdjust="spacingAndGlyphs">O</text>
<text x="89.60" y="362.70" font-size="9.74" font-weight="normal" fill="#000" stroke="#000" stroke-width="0.25" textLength="15.75" lengthAdjust="spacingAndGlyphs">OH</text>
<line x1="295.40" y1="285.40" x2="308.90" y2="293.10" stroke="#000" stroke-width="1.35"/>
<line x1="308.90" y1="293.10" x2="308.90" y2="309.10" stroke="#000" stroke-width="1.35"/>
<line x1="306.30" y1="295.66" x2="306.30" y2="306.54" stroke="#000" stroke-width="1.35"/>
<line x1="308.90" y1="309.10" x2="298.76" y2="315.63" stroke="#000" stroke-width="1.35"/>
<line x1="292.03" y1="315.64" x2="281.80" y2="309.10" stroke="#000" stroke-width="1.35"/>
<line x1="281.80" y1="309.10" x2="281.80" y2="293.10" stroke="#000" stroke-width="1.35"/>
<line x1="284.40" y1="306.54" x2="284.40" y2="295.66" stroke="#000" stroke-width="1.35"/>
<line x1="281.80" y1="293.10" x2="295.40" y2="285.40" stroke="#000" stroke-width="1.35"/>
<line x1="296.70" y1="285.40" x2="296.70" y2="275.50" stroke="#000" stroke-width="1.35"/>
<line x1="294.10" y1="285.40" x2="294.10" y2="275.50" stroke="#000" stroke-width="1.35"/>
<line x1="308.90" y1="293.10" x2="317.40" y2="288.80" stroke="#000" stroke-width="1.35"/>
<line x1="308.90" y1="309.10" x2="323.30" y2="317.60" stroke="#000" stroke-width="1.35"/>
<line x1="295.40" y1="322.60" x2="295.30" y2="332.30" stroke="#000" stroke-width="1.35"/>
<line x1="295.30" y1="332.30" x2="309.90" y2="340.40" stroke="#000" stroke-width="1.35"/>
<line x1="309.90" y1="340.40" x2="309.90" y2="356.10" stroke="#000" stroke-width="1.35"/>
<line x1="311.49" y1="339.18" x2="311.83" y2="339.86" stroke="#000" stroke-width="0.8"/>
<line x1="313.08" y1="337.96" x2="313.76" y2="339.32" stroke="#000" stroke-width="0.8"/>
<line x1="314.67" y1="336.74" x2="315.69" y2="338.78" stroke="#000" stroke-width="0.8"/>
<line x1="316.26" y1="335.52" x2="317.62" y2="338.24" stroke="#000" stroke-width="0.8"/>
<line x1="317.85" y1="334.30" x2="319.55" y2="337.70" stroke="#000" stroke-width="0.8"/>
<line x1="309.29" y1="354.95" x2="299.79" y2="360.05" stroke="#000" stroke-width="1.35"/>
<line x1="310.51" y1="357.25" x2="301.01" y2="362.35" stroke="#000" stroke-width="1.35"/>
<line x1="309.90" y1="356.10" x2="318.00" y2="361.20" stroke="#000" stroke-width="1.35"/>
<text x="291.59" y="274.60" font-size="10.03" font-weight="normal" fill="#000" stroke="#000" stroke-width="0.25" textLength="8.43" lengthAdjust="spacingAndGlyphs">O</text>
<text x="318.55" y="290.40" font-size="10.17" font-weight="normal" fill="#000" stroke="#000" stroke-width="0.25" textLength="17.39" lengthAdjust="spacingAndGlyphs">OH</text>
<text x="291.01" y="321.70" font-size="10.61" font-weight="normal" fill="#000" stroke="#000" stroke-width="0.25" textLength="9.57" lengthAdjust="spacingAndGlyphs">N</text>
<text x="319.24" y="336.70" font-size="10.61" font-weight="normal" transform="translate(319.24,0) scale(1.1047,1) translate(-319.24,0)">NH<tspan font-size="7.22" dy="2.65">2</tspan></text>
<text x="291.29" y="368.40" font-size="11.17" font-weight="normal" fill="#000" stroke="#000" stroke-width="0.25" textLength="8.43" lengthAdjust="spacingAndGlyphs">O</text>
<text x="318.97" y="368.40" font-size="11.17" font-weight="normal" fill="#000" stroke="#000" stroke-width="0.25" textLength="16.63" lengthAdjust="spacingAndGlyphs">OH</text>
<line x1="580.40" y1="283.00" x2="594.20" y2="291.30" stroke="#000" stroke-width="1.35"/>
<line x1="594.20" y1="291.30" x2="594.20" y2="302.60" stroke="#000" stroke-width="1.35"/>
<line x1="590.60" y1="310.20" x2="580.40" y2="316.00" stroke="#000" stroke-width="1.35"/>
<line x1="580.40" y1="316.00" x2="566.70" y2="307.80" stroke="#000" stroke-width="1.35"/>
<line x1="579.54" y1="312.46" x2="570.23" y2="306.88" stroke="#000" stroke-width="1.35"/>
<line x1="566.70" y1="307.80" x2="566.70" y2="291.30" stroke="#000" stroke-width="1.35"/>
<line x1="566.70" y1="291.30" x2="580.40" y2="283.00" stroke="#000" stroke-width="1.35"/>
<line x1="570.24" y1="292.20" x2="579.56" y2="286.55" stroke="#000" stroke-width="1.35"/>
<line x1="580.40" y1="283.00" x2="580.40" y2="273.80" stroke="#000" stroke-width="1.35"/>
<line x1="594.87" y1="292.42" x2="603.07" y2="287.52" stroke="#000" stroke-width="1.35"/>
<line x1="593.53" y1="290.18" x2="601.73" y2="285.28" stroke="#000" stroke-width="1.35"/>
<text x="576.27" y="271.90" font-size="10.03" font-weight="normal" fill="#000" stroke="#000" stroke-width="0.25" textLength="16.85" lengthAdjust="spacingAndGlyphs">OH</text>
<text x="602.10" y="288.30" font-size="10.88" font-weight="normal" fill="#000" stroke="#000" stroke-width="0.25" textLength="9.80" lengthAdjust="spacingAndGlyphs">O</text>
<text x="590.57" y="312.00" font-size="10.90" font-weight="normal" fill="#000" stroke="#000" stroke-width="0.25" textLength="16.35" lengthAdjust="spacingAndGlyphs">NH</text>
<line x1="580.40" y1="316.00" x2="581.10" y2="331.30" stroke="#000" stroke-width="1.35"/>
<line x1="581.10" y1="331.30" x2="567.50" y2="338.20" stroke="#000" stroke-width="1.35"/>
<polyline points="567.50,338.20 567.32,337.17 566.73,336.80 565.73,337.10 564.72,337.40 564.13,337.03 563.95,336.00 563.77,334.97 563.18,334.60 562.17,334.90 561.17,335.20 560.58,334.83 560.40,333.80" fill="none" stroke="#000" stroke-width="1.0"/>
<line x1="567.50" y1="338.20" x2="567.50" y2="355.30" stroke="#000" stroke-width="1.35"/>
<line x1="567.50" y1="355.30" x2="558.70" y2="360.50" stroke="#000" stroke-width="1.35"/>
<line x1="566.87" y1="356.44" x2="575.57" y2="361.24" stroke="#000" stroke-width="1.35"/>
<line x1="568.13" y1="354.16" x2="576.83" y2="358.96" stroke="#000" stroke-width="1.35"/>
<text x="536.65" y="335.50" font-size="11.48" font-weight="normal" transform="translate(536.65,0) scale(1.0132,1) translate(-536.65,0)">H<tspan font-size="7.81" dy="2.87">2</tspan><tspan dy="-2.87">N</tspan></text>
<text x="541.72" y="367.00" font-size="10.45" font-weight="normal" fill="#000" stroke="#000" stroke-width="0.25" textLength="16.09" lengthAdjust="spacingAndGlyphs">HO</text>
<text x="576.69" y="367.00" font-size="10.45" font-weight="normal" fill="#000" stroke="#000" stroke-width="0.25" textLength="8.32" lengthAdjust="spacingAndGlyphs">O</text>
<line x1="130.63" y1="288.23" x2="130.63" y2="291.17" stroke="#000" stroke-width="1.8" stroke-linecap="round"/>
<line x1="129.36" y1="288.97" x2="131.91" y2="290.44" stroke="#000" stroke-width="1.8" stroke-linecap="round"/>
<line x1="131.91" y1="288.97" x2="129.36" y2="290.44" stroke="#000" stroke-width="1.8" stroke-linecap="round"/>
<line x1="136.90" y1="288.23" x2="136.90" y2="291.17" stroke="#000" stroke-width="1.8" stroke-linecap="round"/>
<line x1="135.63" y1="288.97" x2="138.17" y2="290.44" stroke="#000" stroke-width="1.8" stroke-linecap="round"/>
<line x1="138.17" y1="288.97" x2="135.63" y2="290.44" stroke="#000" stroke-width="1.8" stroke-linecap="round"/>
<line x1="143.17" y1="288.23" x2="143.17" y2="291.17" stroke="#000" stroke-width="1.8" stroke-linecap="round"/>
<line x1="141.89" y1="288.97" x2="144.44" y2="290.44" stroke="#000" stroke-width="1.8" stroke-linecap="round"/>
<line x1="144.44" y1="288.97" x2="141.89" y2="290.44" stroke="#000" stroke-width="1.8" stroke-linecap="round"/>
<text x="132.34" y="284.44" font-size="11.42" font-weight="bold" fill="#000" stroke="#000" stroke-width="0.65" textLength="21.41" lengthAdjust="spacingAndGlyphs">###</text>
<polygon points="152.42,273.12 154.81,277.10 152.42,281.07 150.03,277.10" fill="none" stroke="#111" stroke-width="1.25" stroke-linejoin="round"/>
<polygon points="159.05,273.12 161.44,277.10 159.05,281.07 156.66,277.10" fill="none" stroke="#111" stroke-width="1.25" stroke-linejoin="round"/>
<polygon points="165.68,273.12 168.07,277.10 165.68,281.07 163.29,277.10" fill="none" stroke="#111" stroke-width="1.25" stroke-linejoin="round"/>
<line x1="176.12" y1="350.53" x2="176.12" y2="355.07" stroke="#000" stroke-width="1.8" stroke-linecap="round"/>
<line x1="174.16" y1="351.66" x2="178.09" y2="353.93" stroke="#000" stroke-width="1.8" stroke-linecap="round"/>
<line x1="178.09" y1="351.66" x2="174.16" y2="353.93" stroke="#000" stroke-width="1.8" stroke-linecap="round"/>
<line x1="182.38" y1="350.53" x2="182.38" y2="355.07" stroke="#000" stroke-width="1.8" stroke-linecap="round"/>
<line x1="180.41" y1="351.66" x2="184.34" y2="353.93" stroke="#000" stroke-width="1.8" stroke-linecap="round"/>
<line x1="184.34" y1="351.66" x2="180.41" y2="353.93" stroke="#000" stroke-width="1.8" stroke-linecap="round"/>
<text x="186.24" y="357.64" font-size="11.57" font-weight="bold" fill="#000" stroke="#000" stroke-width="0.65" textLength="21.51" lengthAdjust="spacingAndGlyphs">###</text>
<polygon points="205.00,362.52 207.47,365.55 205.00,368.57 202.53,365.55" fill="none" stroke="#111" stroke-width="1.25" stroke-linejoin="round"/>
<line x1="366.25" y1="340.53" x2="366.25" y2="343.87" stroke="#555" stroke-width="1.8" stroke-linecap="round"/>
<line x1="364.80" y1="341.37" x2="367.70" y2="343.03" stroke="#555" stroke-width="1.8" stroke-linecap="round"/>
<line x1="367.70" y1="341.37" x2="364.80" y2="343.03" stroke="#555" stroke-width="1.8" stroke-linecap="round"/>
<line x1="372.15" y1="340.53" x2="372.15" y2="343.87" stroke="#555" stroke-width="1.8" stroke-linecap="round"/>
<line x1="370.70" y1="341.37" x2="373.60" y2="343.03" stroke="#555" stroke-width="1.8" stroke-linecap="round"/>
<line x1="373.60" y1="341.37" x2="370.70" y2="343.03" stroke="#555" stroke-width="1.8" stroke-linecap="round"/>
<line x1="378.05" y1="340.53" x2="378.05" y2="343.87" stroke="#555" stroke-width="1.8" stroke-linecap="round"/>
<line x1="376.60" y1="341.37" x2="379.50" y2="343.03" stroke="#555" stroke-width="1.8" stroke-linecap="round"/>
<line x1="379.50" y1="341.37" x2="376.60" y2="343.03" stroke="#555" stroke-width="1.8" stroke-linecap="round"/>
<text x="365.96" y="329.74" font-size="11.86" font-weight="bold" fill="#333" stroke="#333" stroke-width="0.65" textLength="19.67" lengthAdjust="spacingAndGlyphs">###</text>
<polygon points="384.32,310.93 387.01,314.55 384.32,318.18 381.62,314.55" fill="none" stroke="#111" stroke-width="1.25" stroke-linejoin="round"/>
<polygon points="391.55,310.93 394.24,314.55 391.55,318.18 388.86,314.55" fill="none" stroke="#111" stroke-width="1.25" stroke-linejoin="round"/>
<polygon points="398.78,310.93 401.48,314.55 398.78,318.18 396.09,314.55" fill="none" stroke="#111" stroke-width="1.25" stroke-linejoin="round"/>
<line x1="406.47" y1="332.63" x2="406.47" y2="336.57" stroke="#555" stroke-width="1.8" stroke-linecap="round"/>
<line x1="404.76" y1="333.62" x2="408.17" y2="335.59" stroke="#555" stroke-width="1.8" stroke-linecap="round"/>
<line x1="408.17" y1="333.62" x2="404.76" y2="335.59" stroke="#555" stroke-width="1.8" stroke-linecap="round"/>
<line x1="412.60" y1="332.63" x2="412.60" y2="336.57" stroke="#555" stroke-width="1.8" stroke-linecap="round"/>
<line x1="410.89" y1="333.62" x2="414.31" y2="335.59" stroke="#555" stroke-width="1.8" stroke-linecap="round"/>
<line x1="414.31" y1="333.62" x2="410.89" y2="335.59" stroke="#555" stroke-width="1.8" stroke-linecap="round"/>
<line x1="418.73" y1="332.63" x2="418.73" y2="336.57" stroke="#555" stroke-width="1.8" stroke-linecap="round"/>
<line x1="417.03" y1="333.62" x2="420.44" y2="335.59" stroke="#555" stroke-width="1.8" stroke-linecap="round"/>
<line x1="420.44" y1="333.62" x2="417.03" y2="335.59" stroke="#555" stroke-width="1.8" stroke-linecap="round"/>
<text x="415.36" y="327.14" font-size="11.86" font-weight="bold" fill="#333" stroke="#333" stroke-width="0.65" textLength="19.57" lengthAdjust="spacingAndGlyphs">###</text>
<polygon points="428.67,308.93 430.91,312.25 428.67,315.57 426.43,312.25" fill="none" stroke="#111" stroke-width="1.25" stroke-linejoin="round"/>
<polygon points="435.00,308.93 437.24,312.25 435.00,315.57 432.76,312.25" fill="none" stroke="#111" stroke-width="1.25" stroke-linejoin="round"/>
<polygon points="441.33,308.93 443.57,312.25 441.33,315.57 439.09,312.25" fill="none" stroke="#111" stroke-width="1.25" stroke-linejoin="round"/>
<polygon points="492.08,536.33 494.54,539.85 492.08,543.38 489.62,539.85" fill="none" stroke="#111" stroke-width="1.25" stroke-linejoin="round"/>
<polygon points="498.85,536.33 501.31,539.85 498.85,543.38 496.39,539.85" fill="none" stroke="#111" stroke-width="1.25" stroke-linejoin="round"/>
<polygon points="505.62,536.33 508.07,539.85 505.62,543.38 503.16,539.85" fill="none" stroke="#111" stroke-width="1.25" stroke-linejoin="round"/>
<text x="496.06" y="568.44" font-size="12.30" font-weight="bold" fill="#000" stroke="#000" stroke-width="0.65" textLength="19.57" lengthAdjust="spacingAndGlyphs">###</text>
<line x1="476.38" y1="592.83" x2="476.38" y2="596.57" stroke="#000" stroke-width="1.8" stroke-linecap="round"/>
<line x1="474.76" y1="593.77" x2="477.99" y2="595.63" stroke="#000" stroke-width="1.8" stroke-linecap="round"/>
<line x1="477.99" y1="593.77" x2="474.76" y2="595.63" stroke="#000" stroke-width="1.8" stroke-linecap="round"/>
<line x1="482.72" y1="592.83" x2="482.72" y2="596.57" stroke="#000" stroke-width="1.8" stroke-linecap="round"/>
<line x1="481.11" y1="593.77" x2="484.34" y2="595.63" stroke="#000" stroke-width="1.8" stroke-linecap="round"/>
<line x1="484.34" y1="593.77" x2="481.11" y2="595.63" stroke="#000" stroke-width="1.8" stroke-linecap="round"/>
<polygon points="563.77,541.62 566.11,545.00 563.77,548.38 561.42,545.00" fill="none" stroke="#111" stroke-width="1.25" stroke-linejoin="round"/>
<polygon points="570.30,541.62 572.64,545.00 570.30,548.38 567.96,545.00" fill="none" stroke="#111" stroke-width="1.25" stroke-linejoin="round"/>
<polygon points="576.83,541.62 579.18,545.00 576.83,548.38 574.49,545.00" fill="none" stroke="#111" stroke-width="1.25" stroke-linejoin="round"/>
<text x="550.36" y="565.84" font-size="11.72" font-weight="bold" fill="#000" stroke="#000" stroke-width="0.65" textLength="19.88" lengthAdjust="spacingAndGlyphs">###</text>
<line x1="543.82" y1="568.63" x2="543.82" y2="572.17" stroke="#000" stroke-width="1.8" stroke-linecap="round"/>
<line x1="542.28" y1="569.51" x2="545.35" y2="571.28" stroke="#000" stroke-width="1.8" stroke-linecap="round"/>
<line x1="545.35" y1="569.51" x2="542.28" y2="571.28" stroke="#000" stroke-width="1.8" stroke-linecap="round"/>
<line x1="549.85" y1="568.63" x2="549.85" y2="572.17" stroke="#000" stroke-width="1.8" stroke-linecap="round"/>
<line x1="548.32" y1="569.51" x2="551.38" y2="571.28" stroke="#000" stroke-width="1.8" stroke-linecap="round"/>
<line x1="551.38" y1="569.51" x2="548.32" y2="571.28" stroke="#000" stroke-width="1.8" stroke-linecap="round"/>
<line x1="555.88" y1="568.63" x2="555.88" y2="572.17" stroke="#000" stroke-width="1.8" stroke-linecap="round"/>
<line x1="554.35" y1="569.51" x2="557.42" y2="571.28" stroke="#000" stroke-width="1.8" stroke-linecap="round"/>
<line x1="557.42" y1="569.51" x2="554.35" y2="571.28" stroke="#000" stroke-width="1.8" stroke-linecap="round"/>
<polyline points="498.5,552.8 523.3,570.6" fill="none" stroke="#666" stroke-width="1.3"/>
<polyline points="506.2,575 512.5,589.6" fill="none" stroke="#666" stroke-width="1.3"/>
<polyline points="491.6,596 496.6,596 501.7,617.5" fill="none" stroke="#666" stroke-width="1.3"/>
</svg></body></html>
